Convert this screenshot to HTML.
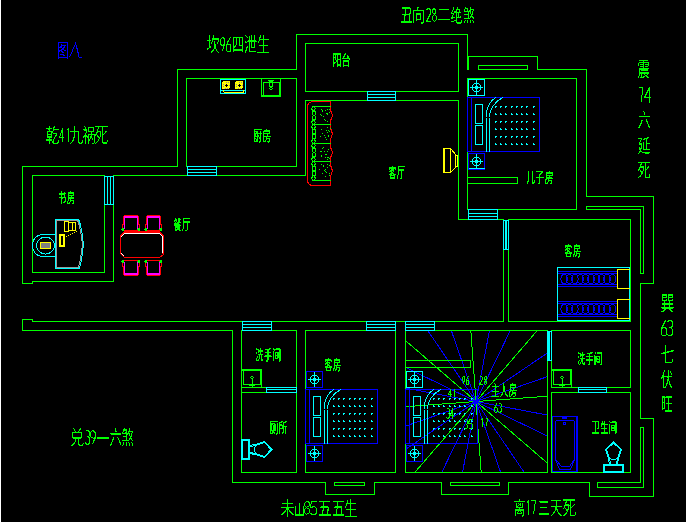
<!DOCTYPE html>
<html><head><meta charset="utf-8"><style>
html,body{margin:0;padding:0;background:#000;width:687px;height:522px;overflow:hidden;font-family:"Liberation Sans",sans-serif}
svg{display:block}
</style></head><body>
<svg width="687" height="522" viewBox="0 0 687 522">
<rect x="0" y="0" width="687" height="522" fill="#000"/>
<rect x="0" y="0" width="1" height="522" fill="#fff"/>
<rect x="686" y="0" width="1" height="522" fill="#fff"/>
<g transform="translate(0.5,0.5)" fill="none" stroke-width="1" stroke-linecap="square" shape-rendering="crispEdges">
<g><line x1="475.5" y1="401.0" x2="547.0" y2="395.7" stroke="#00ff00"/><line x1="475.5" y1="401.0" x2="547.0" y2="414.6" stroke="#0000ff"/><line x1="475.5" y1="401.0" x2="547.0" y2="435.6" stroke="#0000ff"/><line x1="475.5" y1="401.0" x2="547.0" y2="462.7" stroke="#00ff00"/><line x1="475.5" y1="401.0" x2="523.8" y2="472.0" stroke="#0000ff"/><line x1="475.5" y1="401.0" x2="500.2" y2="472.0" stroke="#0000ff"/><line x1="475.5" y1="401.0" x2="480.7" y2="472.0" stroke="#00ff00"/><line x1="475.5" y1="401.0" x2="462.0" y2="472.0" stroke="#0000ff"/><line x1="475.5" y1="401.0" x2="441.2" y2="472.0" stroke="#0000ff"/><line x1="475.5" y1="401.0" x2="414.2" y2="472.0" stroke="#00ff00"/><line x1="475.5" y1="401.0" x2="405.0" y2="448.9" stroke="#0000ff"/><line x1="475.5" y1="401.0" x2="405.0" y2="425.6" stroke="#0000ff"/><line x1="475.5" y1="401.0" x2="405.0" y2="406.2" stroke="#00ff00"/><line x1="475.5" y1="401.0" x2="405.0" y2="387.6" stroke="#0000ff"/><line x1="475.5" y1="401.0" x2="405.0" y2="366.9" stroke="#0000ff"/><line x1="475.5" y1="401.0" x2="405.0" y2="340.1" stroke="#00ff00"/><line x1="475.5" y1="401.0" x2="427.2" y2="330.0" stroke="#0000ff"/><line x1="475.5" y1="401.0" x2="450.8" y2="330.0" stroke="#0000ff"/><line x1="475.5" y1="401.0" x2="470.3" y2="330.0" stroke="#00ff00"/><line x1="475.5" y1="401.0" x2="489.0" y2="330.0" stroke="#0000ff"/><line x1="475.5" y1="401.0" x2="509.8" y2="330.0" stroke="#0000ff"/><line x1="475.5" y1="401.0" x2="536.8" y2="330.0" stroke="#00ff00"/><line x1="475.5" y1="401.0" x2="547.0" y2="352.4" stroke="#0000ff"/><line x1="475.5" y1="401.0" x2="547.0" y2="376.1" stroke="#0000ff"/></g>
<g><polyline points="22,283 22,166 177,166 177,69 296,69 296,34 467,34 467,69" stroke="#00ff00"/><line x1="468" y1="56" x2="468" y2="69" stroke="#00ff00"/><polyline points="467,56 537,56 537,69 586,69 586,196 653,196 653,283 640,283 640,418 653,418 653,496 589,496 589,482 508,482 508,494 441,494 441,482 374,482 374,494 325,494 325,482 232,482 232,330 22,330 22,319 32,319 32,321 503,321 503,219 458,219 458,100 305,100 305,175 113,175 113,281 32,281 32,283 22,283" stroke="#00ff00"/><rect x="32" y="175" width="72" height="97" stroke="#00ff00"/><rect x="186" y="78" width="110" height="88" stroke="#00ff00"/><rect x="305" y="43" width="153" height="48" stroke="#00ff00"/><rect x="467" y="78" width="109" height="131" stroke="#00ff00"/><rect x="508" y="219" width="122" height="102" stroke="#00ff00"/><polygon points="586,206 643,206 643,273 640,273 640,209 586,209" stroke="#00ff00"/><rect x="478" y="65" width="49" height="4" stroke="#00ff00"/><polyline points="467,177 517,177 517,183 467,183" stroke="#00ff00"/><line x1="232" y1="330" x2="232" y2="330" stroke="#00ff00"/><rect x="241" y="330" width="55" height="142" stroke="#00ff00"/><line x1="241" y1="387" x2="266" y2="387" stroke="#00ff00"/><line x1="241" y1="392" x2="266" y2="392" stroke="#00ff00"/><rect x="305" y="330" width="90" height="142" stroke="#00ff00"/><rect x="405" y="330" width="142" height="142" stroke="#00ff00"/><rect x="551" y="330" width="79" height="57" stroke="#00ff00"/><rect x="551" y="392" width="79" height="80" stroke="#00ff00"/><rect x="405" y="360" width="65" height="7" stroke="#00ff00"/><rect x="334" y="482" width="30" height="3" stroke="#00ff00"/><rect x="450" y="482" width="49" height="3" stroke="#00ff00"/><polygon points="597,482 640,482 640,427 643,427 643,487 597,487" stroke="#00ff00"/></g>
<g><rect x="187" y="166" width="29" height="9" stroke="#00ffff" fill="#000"/><line x1="187" y1="169" x2="216" y2="169" stroke="#00ffff"/><line x1="187" y1="172" x2="216" y2="172" stroke="#00ffff"/><rect x="104" y="176" width="9" height="28" stroke="#00ffff" fill="#000"/><line x1="107" y1="176" x2="107" y2="204" stroke="#00ffff"/><line x1="110" y1="176" x2="110" y2="204" stroke="#00ffff"/><rect x="367" y="91" width="28" height="9" stroke="#00ffff" fill="#000"/><line x1="367" y1="94" x2="395" y2="94" stroke="#00ffff"/><line x1="367" y1="97" x2="395" y2="97" stroke="#00ffff"/><rect x="468" y="209" width="29" height="10" stroke="#00ffff" fill="#000"/><line x1="468" y1="213" x2="497" y2="213" stroke="#00ffff"/><line x1="468" y1="216" x2="497" y2="216" stroke="#00ffff"/><rect x="503" y="220" width="5" height="29" stroke="#00ffff" fill="#000"/><line x1="505" y1="220" x2="505" y2="249" stroke="#00ffff"/><line x1="506" y1="220" x2="506" y2="249" stroke="#00ffff"/><rect x="242" y="321" width="29" height="9" stroke="#00ffff" fill="#000"/><line x1="242" y1="324" x2="271" y2="324" stroke="#00ffff"/><line x1="242" y1="327" x2="271" y2="327" stroke="#00ffff"/><rect x="366" y="321" width="29" height="9" stroke="#00ffff" fill="#000"/><line x1="366" y1="324" x2="395" y2="324" stroke="#00ffff"/><line x1="366" y1="327" x2="395" y2="327" stroke="#00ffff"/><rect x="405" y="321" width="29" height="9" stroke="#00ffff" fill="#000"/><line x1="405" y1="324" x2="434" y2="324" stroke="#00ffff"/><line x1="405" y1="327" x2="434" y2="327" stroke="#00ffff"/><rect x="547" y="331" width="4" height="29" stroke="#00ffff" fill="#000"/><line x1="548" y1="331" x2="548" y2="360" stroke="#00ffff"/><line x1="549" y1="331" x2="549" y2="360" stroke="#00ffff"/><rect x="266" y="387" width="30" height="5" stroke="#00ffff" fill="#000"/><line x1="266" y1="389" x2="296" y2="389" stroke="#00ffff"/><rect x="578" y="387" width="28" height="5" stroke="#00ffff" fill="#000"/><line x1="578" y1="389" x2="606" y2="389" stroke="#00ffff"/></g>
<g><rect x="474" y="399.5" width="3" height="3" fill="#0000ff" stroke="#0000ff"/><rect x="220" y="79" width="25" height="14" stroke="#00ffff"/><line x1="220" y1="90" x2="245" y2="90" stroke="#00ffff"/><line x1="224" y1="92" x2="243" y2="92" stroke="#ffff00"/><line x1="223" y1="90" x2="223" y2="91" stroke="#ffff00"/><line x1="243" y1="90" x2="243" y2="91" stroke="#ffff00"/><rect x="221.5" y="80.5" width="8" height="8" rx="2" fill="#ffff00" stroke="none"/><rect x="224.5" y="84.5" width="3" height="1" fill="#000" stroke="none"/><rect x="225.5" y="83.5" width="1" height="3" fill="#000" stroke="none"/><rect x="222.5" y="83.5" width="1" height="1" fill="#8a8aa0" stroke="none"/><rect x="222.5" y="85.5" width="1" height="1" fill="#8a8aa0" stroke="none"/><rect x="227.5" y="81.5" width="1" height="1" fill="#8a8aa0" stroke="none"/><rect x="228.5" y="84.5" width="1" height="1" fill="#8a8aa0" stroke="none"/><rect x="224.5" y="87.5" width="1" height="1" fill="#8a8aa0" stroke="none"/><rect x="226.5" y="87.5" width="1" height="1" fill="#8a8aa0" stroke="none"/><rect x="225.5" y="81.5" width="1" height="1" fill="#8a8aa0" stroke="none"/><rect x="234.5" y="80.5" width="8" height="8" rx="2" fill="#ffff00" stroke="none"/><rect x="237.5" y="84.5" width="3" height="1" fill="#000" stroke="none"/><rect x="238.5" y="83.5" width="1" height="3" fill="#000" stroke="none"/><rect x="235.5" y="83.5" width="1" height="1" fill="#8a8aa0" stroke="none"/><rect x="235.5" y="85.5" width="1" height="1" fill="#8a8aa0" stroke="none"/><rect x="240.5" y="81.5" width="1" height="1" fill="#8a8aa0" stroke="none"/><rect x="241.5" y="84.5" width="1" height="1" fill="#8a8aa0" stroke="none"/><rect x="237.5" y="87.5" width="1" height="1" fill="#8a8aa0" stroke="none"/><rect x="239.5" y="87.5" width="1" height="1" fill="#8a8aa0" stroke="none"/><rect x="238.5" y="81.5" width="1" height="1" fill="#8a8aa0" stroke="none"/><rect x="261" y="78" width="19" height="18" stroke="#00ff00"/><line x1="261" y1="95" x2="280" y2="95" stroke="#00ff00"/><polyline points="263,95 263,82 279,82 279,95" stroke="#00ff00"/><rect x="269" y="81" width="3" height="5" stroke="#00ff00"/><line x1="268" y1="80" x2="273" y2="80" stroke="#00ff00"/><circle cx="270.5" cy="88" r="1.3" stroke="#00ff00" fill="none" stroke-width="1"/><path d="M330,101 L313,101 Q307,101 307,107 L307,179 Q307,185 313,185 L330,185" stroke="#ff0000" fill="none" stroke-width="1" /><path d="M330,101 L330,110 Q333.5,115.0 330,120 L330,128 Q333.5,133.5 330,139 L330,147 Q333.5,152.0 330,157 L330,165 Q333.5,170.5 330,176 L330,185" stroke="#ff0000" fill="none" stroke-width="1" /><line x1="312" y1="106" x2="330" y2="106" stroke="#00ff00"/><ellipse cx="313.0" cy="108.2" rx="1.6" ry="2.2" stroke="#00ff00"/><ellipse cx="313.6" cy="112.8" rx="1.6" ry="2.2" stroke="#00ff00"/><ellipse cx="313.6" cy="117.2" rx="1.6" ry="2.2" stroke="#00ff00"/><ellipse cx="313.0" cy="121.8" rx="1.6" ry="2.2" stroke="#00ff00"/><line x1="312" y1="124" x2="330" y2="124" stroke="#00ff00"/><ellipse cx="313.0" cy="126.4" rx="1.6" ry="2.4" stroke="#00ff00"/><ellipse cx="313.6" cy="131.1" rx="1.6" ry="2.4" stroke="#00ff00"/><ellipse cx="313.6" cy="135.9" rx="1.6" ry="2.4" stroke="#00ff00"/><ellipse cx="313.0" cy="140.6" rx="1.6" ry="2.4" stroke="#00ff00"/><line x1="312" y1="143" x2="330" y2="143" stroke="#00ff00"/><ellipse cx="313.0" cy="145.2" rx="1.6" ry="2.2" stroke="#00ff00"/><ellipse cx="313.6" cy="149.8" rx="1.6" ry="2.2" stroke="#00ff00"/><ellipse cx="313.6" cy="154.2" rx="1.6" ry="2.2" stroke="#00ff00"/><ellipse cx="313.0" cy="158.8" rx="1.6" ry="2.2" stroke="#00ff00"/><line x1="312" y1="161" x2="330" y2="161" stroke="#00ff00"/><ellipse cx="313.0" cy="163.4" rx="1.6" ry="2.4" stroke="#00ff00"/><ellipse cx="313.6" cy="168.1" rx="1.6" ry="2.4" stroke="#00ff00"/><ellipse cx="313.6" cy="172.9" rx="1.6" ry="2.4" stroke="#00ff00"/><ellipse cx="313.0" cy="177.6" rx="1.6" ry="2.4" stroke="#00ff00"/><line x1="312" y1="180" x2="330" y2="180" stroke="#00ff00"/><rect x="325" y="110" width="0.01" height="0.01" stroke="#00ff00"/><rect x="327" y="109" width="0.01" height="0.01" stroke="#00ff00"/><rect x="326" y="113" width="0.01" height="0.01" stroke="#00ff00"/><rect x="321" y="115" width="0.01" height="0.01" stroke="#00ff00"/><rect x="320" y="114" width="0.01" height="0.01" stroke="#00ff00"/><rect x="321" y="109" width="0.01" height="0.01" stroke="#00ff00"/><rect x="325" y="120" width="0.01" height="0.01" stroke="#00ff00"/><rect x="322" y="111" width="0.01" height="0.01" stroke="#00ff00"/><rect x="327" y="121" width="0.01" height="0.01" stroke="#00ff00"/><rect x="327" y="114" width="0.01" height="0.01" stroke="#00ff00"/><rect x="329" y="109" width="0.01" height="0.01" stroke="#00ff00"/><rect x="329" y="112" width="0.01" height="0.01" stroke="#00ff00"/><rect x="322" y="110" width="0.01" height="0.01" stroke="#00ff00"/><rect x="324" y="119" width="0.01" height="0.01" stroke="#00ff00"/><rect x="323" y="116" width="0.01" height="0.01" stroke="#00ff00"/><rect x="327" y="113" width="0.01" height="0.01" stroke="#00ff00"/><rect x="327" y="127" width="0.01" height="0.01" stroke="#00ff00"/><rect x="321" y="129" width="0.01" height="0.01" stroke="#00ff00"/><rect x="327" y="132" width="0.01" height="0.01" stroke="#00ff00"/><rect x="324" y="135" width="0.01" height="0.01" stroke="#00ff00"/><rect x="326" y="130" width="0.01" height="0.01" stroke="#00ff00"/><rect x="328" y="136" width="0.01" height="0.01" stroke="#00ff00"/><rect x="324" y="135" width="0.01" height="0.01" stroke="#00ff00"/><rect x="326" y="139" width="0.01" height="0.01" stroke="#00ff00"/><rect x="328" y="130" width="0.01" height="0.01" stroke="#00ff00"/><rect x="330" y="128" width="0.01" height="0.01" stroke="#00ff00"/><rect x="325" y="137" width="0.01" height="0.01" stroke="#00ff00"/><rect x="322" y="133" width="0.01" height="0.01" stroke="#00ff00"/><rect x="320" y="136" width="0.01" height="0.01" stroke="#00ff00"/><rect x="328" y="135" width="0.01" height="0.01" stroke="#00ff00"/><rect x="329" y="131" width="0.01" height="0.01" stroke="#00ff00"/><rect x="328" y="135" width="0.01" height="0.01" stroke="#00ff00"/><rect x="327" y="151" width="0.01" height="0.01" stroke="#00ff00"/><rect x="329" y="158" width="0.01" height="0.01" stroke="#00ff00"/><rect x="326" y="154" width="0.01" height="0.01" stroke="#00ff00"/><rect x="321" y="155" width="0.01" height="0.01" stroke="#00ff00"/><rect x="327" y="159" width="0.01" height="0.01" stroke="#00ff00"/><rect x="328" y="149" width="0.01" height="0.01" stroke="#00ff00"/><rect x="325" y="154" width="0.01" height="0.01" stroke="#00ff00"/><rect x="320" y="151" width="0.01" height="0.01" stroke="#00ff00"/><rect x="323" y="147" width="0.01" height="0.01" stroke="#00ff00"/><rect x="321" y="156" width="0.01" height="0.01" stroke="#00ff00"/><rect x="322" y="148" width="0.01" height="0.01" stroke="#00ff00"/><rect x="325" y="157" width="0.01" height="0.01" stroke="#00ff00"/><rect x="321" y="151" width="0.01" height="0.01" stroke="#00ff00"/><rect x="327" y="157" width="0.01" height="0.01" stroke="#00ff00"/><rect x="328" y="157" width="0.01" height="0.01" stroke="#00ff00"/><rect x="324" y="151" width="0.01" height="0.01" stroke="#00ff00"/><rect x="325" y="176" width="0.01" height="0.01" stroke="#00ff00"/><rect x="329" y="165" width="0.01" height="0.01" stroke="#00ff00"/><rect x="323" y="166" width="0.01" height="0.01" stroke="#00ff00"/><rect x="324" y="170" width="0.01" height="0.01" stroke="#00ff00"/><rect x="327" y="167" width="0.01" height="0.01" stroke="#00ff00"/><rect x="319" y="169" width="0.01" height="0.01" stroke="#00ff00"/><rect x="325" y="171" width="0.01" height="0.01" stroke="#00ff00"/><rect x="329" y="173" width="0.01" height="0.01" stroke="#00ff00"/><rect x="326" y="172" width="0.01" height="0.01" stroke="#00ff00"/><rect x="327" y="164" width="0.01" height="0.01" stroke="#00ff00"/><rect x="329" y="175" width="0.01" height="0.01" stroke="#00ff00"/><rect x="329" y="175" width="0.01" height="0.01" stroke="#00ff00"/><rect x="325" y="169" width="0.01" height="0.01" stroke="#00ff00"/><rect x="322" y="173" width="0.01" height="0.01" stroke="#00ff00"/><rect x="321" y="164" width="0.01" height="0.01" stroke="#00ff00"/><rect x="323" y="165" width="0.01" height="0.01" stroke="#00ff00"/><rect x="443" y="148" width="7" height="24" stroke="#ffff00"/><line x1="444" y1="148" x2="444" y2="172" stroke="#ffff00"/><polyline points="450,148 456,155" stroke="#ffff00"/><polyline points="456,166 450,172" stroke="#ffff00"/><rect x="455" y="155" width="2" height="11" stroke="#ffff00"/><polygon points="124,231 159,231 163,235 163,254 159,257 124,257 120,253 120,235" stroke="#ff0000"/><polyline points="121,235 124,232 159,232 162,235 162,253" stroke="#ff0000"/><polyline points="124,233 159,233 162,236 162,252" stroke="#ffffff"/><polyline points="121,236 123,234" stroke="#ffffff"/><polyline points="121,253 123,255" stroke="#ffffff"/><polyline points="122,229 122,224 123,224 123,217 124,215 137,215 138,217 138,224 139,224 139,229" stroke="#ff0000"/><polyline points="122,230 139,230" stroke="#ff0000"/><rect x="124" y="216" width="13" height="1" fill="#ff00ff" stroke="#ff00ff"/><line x1="124" y1="218" x2="124" y2="228" stroke="#ff00ff"/><line x1="137" y1="218" x2="137" y2="228" stroke="#ff00ff"/><circle cx="122.5" cy="229" r="1" stroke="#00ff00" fill="#00ff00" stroke-width="1"/><circle cx="138.5" cy="229" r="1" stroke="#00ff00" fill="none" stroke-width="1"/><polyline points="145,229 145,224 146,224 146,217 147,215 159,215 160,217 160,224 161,224 161,229" stroke="#ff0000"/><polyline points="145,230 161,230" stroke="#ff0000"/><rect x="147" y="216" width="12" height="1" fill="#ff00ff" stroke="#ff00ff"/><line x1="147" y1="218" x2="147" y2="228" stroke="#ff00ff"/><line x1="159" y1="218" x2="159" y2="228" stroke="#ff00ff"/><circle cx="145.5" cy="229" r="1" stroke="#00ff00" fill="#00ff00" stroke-width="1"/><circle cx="160.5" cy="229" r="1" stroke="#00ff00" fill="none" stroke-width="1"/><polyline points="122,261 122,266 123,266 123,273 124,275 137,275 138,273 138,266 139,266 139,261" stroke="#ff0000"/><polyline points="122,260 139,260" stroke="#ff0000"/><rect x="124" y="273" width="13" height="1" fill="#ff00ff" stroke="#ff00ff"/><line x1="124" y1="272" x2="124" y2="262" stroke="#ff00ff"/><line x1="137" y1="272" x2="137" y2="262" stroke="#ff00ff"/><circle cx="122.5" cy="261" r="1" stroke="#00ff00" fill="#00ff00" stroke-width="1"/><circle cx="138.5" cy="261" r="1" stroke="#00ff00" fill="none" stroke-width="1"/><polyline points="145,261 145,266 146,266 146,273 147,275 159,275 160,273 160,266 161,266 161,261" stroke="#ff0000"/><polyline points="145,260 161,260" stroke="#ff0000"/><rect x="147" y="273" width="12" height="1" fill="#ff00ff" stroke="#ff00ff"/><line x1="147" y1="272" x2="147" y2="262" stroke="#ff00ff"/><line x1="159" y1="272" x2="159" y2="262" stroke="#ff00ff"/><circle cx="145.5" cy="261" r="1" stroke="#00ff00" fill="#00ff00" stroke-width="1"/><circle cx="160.5" cy="261" r="1" stroke="#00ff00" fill="none" stroke-width="1"/><path d="M55,219 L78,219 L79,221 L80,225 L81,229 L82,236 L83,244 L82,252 L81,259 L80,264 L79,268 L55,268 Z" stroke="#00ffff" fill="none" stroke-width="1" /><path d="M56,220 L77,220 L78,222 L79,226 L80,230 L81,237 L82,244 L81,251 L80,258 L79,263 L78,267 L56,267 Z" stroke="#9a9a9a" fill="none" stroke-width="1" /><path d="M55,234 L43,234 C36,234 32,239 32,245 C32,251 36,256 43,256 L55,256" stroke="#00ffff" fill="none" stroke-width="1" /><ellipse cx="45" cy="245" rx="9" ry="8.5" stroke="#00ffff"/><rect x="40" y="242" width="10" height="6" stroke="#ffff00" fill="#808080"/><rect x="64" y="221" width="4" height="10" stroke="#ffff00" stroke-width="1"/><rect x="68" y="222" width="7" height="8" stroke="#ffff00"/><line x1="72" y1="222" x2="72" y2="230" stroke="#ffff00"/><rect x="59" y="234" width="5" height="12" stroke="#ffff00" stroke-width="1"/><rect x="60" y="235" width="3" height="10" stroke="#ffff00" stroke-width="1"/><rect x="66" y="236" width="0.01" height="0.01" stroke="#ffff00"/><rect x="68" y="235" width="0.01" height="0.01" stroke="#ffff00"/><rect x="70" y="234" width="0.01" height="0.01" stroke="#ffff00"/><rect x="72" y="233" width="0.01" height="0.01" stroke="#ffff00"/><rect x="74" y="232" width="0.01" height="0.01" stroke="#ffff00"/><rect x="75" y="230" width="0.01" height="0.01" stroke="#ffff00"/><rect x="76" y="231" width="0.01" height="0.01" stroke="#ffff00"/><g transform="translate(467,97)"><rect x="0" y="0" width="72" height="54" stroke="#0000ff"/><line x1="4" y1="0" x2="4" y2="54" stroke="#0000ff"/><rect x="8" y="7" width="7" height="19" stroke="#00ffff"/><rect x="8" y="28" width="7" height="19" stroke="#00ffff"/><path d="M18.5,54 L18.5,20 Q19,6 28,0" stroke="#00ffff" fill="none" stroke-width="1" /><path d="M21.5,54 L21.5,20 Q23,7 35,0" stroke="#00ffff" fill="none" stroke-width="1" /><path d="M28,10 L28,9 L29,9" stroke="#00ffff"/><path d="M28,16 L28,17 L29,17" stroke="#00ffff"/><path d="M28,25 L28,24 L29,24" stroke="#00ffff"/><path d="M28,31 L28,32 L29,32" stroke="#00ffff"/><path d="M28,40 L28,39 L29,39" stroke="#00ffff"/><path d="M28,46 L28,47 L29,47" stroke="#00ffff"/><path d="M33,10 L33,9 L34,9" stroke="#00ffff"/><path d="M33,16 L33,17 L34,17" stroke="#00ffff"/><path d="M33,25 L33,24 L34,24" stroke="#00ffff"/><path d="M33,31 L33,32 L34,32" stroke="#00ffff"/><path d="M33,40 L33,39 L34,39" stroke="#00ffff"/><path d="M33,46 L33,47 L34,47" stroke="#00ffff"/><path d="M38,10 L38,9 L39,9" stroke="#00ffff"/><path d="M38,16 L38,17 L39,17" stroke="#00ffff"/><path d="M38,25 L38,24 L39,24" stroke="#00ffff"/><path d="M38,31 L38,32 L39,32" stroke="#00ffff"/><path d="M38,40 L38,39 L39,39" stroke="#00ffff"/><path d="M38,46 L38,47 L39,47" stroke="#00ffff"/><path d="M44,10 L44,9 L45,9" stroke="#00ffff"/><path d="M44,16 L44,17 L45,17" stroke="#00ffff"/><path d="M44,25 L44,24 L45,24" stroke="#00ffff"/><path d="M44,31 L44,32 L45,32" stroke="#00ffff"/><path d="M44,40 L44,39 L45,39" stroke="#00ffff"/><path d="M44,46 L44,47 L45,47" stroke="#00ffff"/><path d="M49,10 L49,9 L50,9" stroke="#00ffff"/><path d="M49,16 L49,17 L50,17" stroke="#00ffff"/><path d="M49,25 L49,24 L50,24" stroke="#00ffff"/><path d="M49,31 L49,32 L50,32" stroke="#00ffff"/><path d="M49,40 L49,39 L50,39" stroke="#00ffff"/><path d="M49,46 L49,47 L50,47" stroke="#00ffff"/><path d="M54,10 L54,9 L55,9" stroke="#00ffff"/><path d="M54,16 L54,17 L55,17" stroke="#00ffff"/><path d="M54,25 L54,24 L55,24" stroke="#00ffff"/><path d="M54,31 L54,32 L55,32" stroke="#00ffff"/><path d="M54,40 L54,39 L55,39" stroke="#00ffff"/><path d="M54,46 L54,47 L55,47" stroke="#00ffff"/><path d="M59,10 L59,9 L60,9" stroke="#00ffff"/><path d="M59,16 L59,17 L60,17" stroke="#00ffff"/><path d="M59,25 L59,24 L60,24" stroke="#00ffff"/><path d="M59,31 L59,32 L60,32" stroke="#00ffff"/><path d="M59,40 L59,39 L60,39" stroke="#00ffff"/><path d="M59,46 L59,47 L60,47" stroke="#00ffff"/><path d="M66,10 L66,9 L67,9" stroke="#00ffff"/><path d="M66,16 L66,17 L67,17" stroke="#00ffff"/><path d="M66,25 L66,24 L67,24" stroke="#00ffff"/><path d="M66,31 L66,32 L67,32" stroke="#00ffff"/><path d="M66,40 L66,39 L67,39" stroke="#00ffff"/><path d="M66,46 L66,47 L67,47" stroke="#00ffff"/></g><g transform="translate(305,389)"><rect x="0" y="0" width="72" height="54" stroke="#0000ff"/><line x1="4" y1="0" x2="4" y2="54" stroke="#0000ff"/><rect x="8" y="7" width="7" height="19" stroke="#00ffff"/><rect x="8" y="28" width="7" height="19" stroke="#00ffff"/><path d="M18.5,54 L18.5,20 Q19,6 28,0" stroke="#00ffff" fill="none" stroke-width="1" /><path d="M21.5,54 L21.5,20 Q23,7 35,0" stroke="#00ffff" fill="none" stroke-width="1" /><path d="M28,10 L28,9 L29,9" stroke="#00ffff"/><path d="M28,16 L28,17 L29,17" stroke="#00ffff"/><path d="M28,25 L28,24 L29,24" stroke="#00ffff"/><path d="M28,31 L28,32 L29,32" stroke="#00ffff"/><path d="M28,40 L28,39 L29,39" stroke="#00ffff"/><path d="M28,46 L28,47 L29,47" stroke="#00ffff"/><path d="M33,10 L33,9 L34,9" stroke="#00ffff"/><path d="M33,16 L33,17 L34,17" stroke="#00ffff"/><path d="M33,25 L33,24 L34,24" stroke="#00ffff"/><path d="M33,31 L33,32 L34,32" stroke="#00ffff"/><path d="M33,40 L33,39 L34,39" stroke="#00ffff"/><path d="M33,46 L33,47 L34,47" stroke="#00ffff"/><path d="M38,10 L38,9 L39,9" stroke="#00ffff"/><path d="M38,16 L38,17 L39,17" stroke="#00ffff"/><path d="M38,25 L38,24 L39,24" stroke="#00ffff"/><path d="M38,31 L38,32 L39,32" stroke="#00ffff"/><path d="M38,40 L38,39 L39,39" stroke="#00ffff"/><path d="M38,46 L38,47 L39,47" stroke="#00ffff"/><path d="M44,10 L44,9 L45,9" stroke="#00ffff"/><path d="M44,16 L44,17 L45,17" stroke="#00ffff"/><path d="M44,25 L44,24 L45,24" stroke="#00ffff"/><path d="M44,31 L44,32 L45,32" stroke="#00ffff"/><path d="M44,40 L44,39 L45,39" stroke="#00ffff"/><path d="M44,46 L44,47 L45,47" stroke="#00ffff"/><path d="M49,10 L49,9 L50,9" stroke="#00ffff"/><path d="M49,16 L49,17 L50,17" stroke="#00ffff"/><path d="M49,25 L49,24 L50,24" stroke="#00ffff"/><path d="M49,31 L49,32 L50,32" stroke="#00ffff"/><path d="M49,40 L49,39 L50,39" stroke="#00ffff"/><path d="M49,46 L49,47 L50,47" stroke="#00ffff"/><path d="M54,10 L54,9 L55,9" stroke="#00ffff"/><path d="M54,16 L54,17 L55,17" stroke="#00ffff"/><path d="M54,25 L54,24 L55,24" stroke="#00ffff"/><path d="M54,31 L54,32 L55,32" stroke="#00ffff"/><path d="M54,40 L54,39 L55,39" stroke="#00ffff"/><path d="M54,46 L54,47 L55,47" stroke="#00ffff"/><path d="M59,10 L59,9 L60,9" stroke="#00ffff"/><path d="M59,16 L59,17 L60,17" stroke="#00ffff"/><path d="M59,25 L59,24 L60,24" stroke="#00ffff"/><path d="M59,31 L59,32 L60,32" stroke="#00ffff"/><path d="M59,40 L59,39 L60,39" stroke="#00ffff"/><path d="M59,46 L59,47 L60,47" stroke="#00ffff"/><path d="M66,10 L66,9 L67,9" stroke="#00ffff"/><path d="M66,16 L66,17 L67,17" stroke="#00ffff"/><path d="M66,25 L66,24 L67,24" stroke="#00ffff"/><path d="M66,31 L66,32 L67,32" stroke="#00ffff"/><path d="M66,40 L66,39 L67,39" stroke="#00ffff"/><path d="M66,46 L66,47 L67,47" stroke="#00ffff"/></g><g transform="translate(405,389)"><rect x="0" y="0" width="72" height="54" stroke="#0000ff"/><line x1="4" y1="0" x2="4" y2="54" stroke="#0000ff"/><rect x="8" y="7" width="7" height="19" stroke="#00ffff"/><rect x="8" y="28" width="7" height="19" stroke="#00ffff"/><path d="M18.5,54 L18.5,20 Q19,6 28,0" stroke="#00ffff" fill="none" stroke-width="1" /><path d="M21.5,54 L21.5,20 Q23,7 35,0" stroke="#00ffff" fill="none" stroke-width="1" /><path d="M28,10 L28,9 L29,9" stroke="#00ffff"/><path d="M28,16 L28,17 L29,17" stroke="#00ffff"/><path d="M28,25 L28,24 L29,24" stroke="#00ffff"/><path d="M28,31 L28,32 L29,32" stroke="#00ffff"/><path d="M28,40 L28,39 L29,39" stroke="#00ffff"/><path d="M28,46 L28,47 L29,47" stroke="#00ffff"/><path d="M33,10 L33,9 L34,9" stroke="#00ffff"/><path d="M33,16 L33,17 L34,17" stroke="#00ffff"/><path d="M33,25 L33,24 L34,24" stroke="#00ffff"/><path d="M33,31 L33,32 L34,32" stroke="#00ffff"/><path d="M33,40 L33,39 L34,39" stroke="#00ffff"/><path d="M33,46 L33,47 L34,47" stroke="#00ffff"/><path d="M38,10 L38,9 L39,9" stroke="#00ffff"/><path d="M38,16 L38,17 L39,17" stroke="#00ffff"/><path d="M38,25 L38,24 L39,24" stroke="#00ffff"/><path d="M38,31 L38,32 L39,32" stroke="#00ffff"/><path d="M38,40 L38,39 L39,39" stroke="#00ffff"/><path d="M38,46 L38,47 L39,47" stroke="#00ffff"/><path d="M44,10 L44,9 L45,9" stroke="#00ffff"/><path d="M44,16 L44,17 L45,17" stroke="#00ffff"/><path d="M44,25 L44,24 L45,24" stroke="#00ffff"/><path d="M44,31 L44,32 L45,32" stroke="#00ffff"/><path d="M44,40 L44,39 L45,39" stroke="#00ffff"/><path d="M44,46 L44,47 L45,47" stroke="#00ffff"/><path d="M49,10 L49,9 L50,9" stroke="#00ffff"/><path d="M49,16 L49,17 L50,17" stroke="#00ffff"/><path d="M49,25 L49,24 L50,24" stroke="#00ffff"/><path d="M49,31 L49,32 L50,32" stroke="#00ffff"/><path d="M49,40 L49,39 L50,39" stroke="#00ffff"/><path d="M49,46 L49,47 L50,47" stroke="#00ffff"/><path d="M54,10 L54,9 L55,9" stroke="#00ffff"/><path d="M54,16 L54,17 L55,17" stroke="#00ffff"/><path d="M54,25 L54,24 L55,24" stroke="#00ffff"/><path d="M54,31 L54,32 L55,32" stroke="#00ffff"/><path d="M54,40 L54,39 L55,39" stroke="#00ffff"/><path d="M54,46 L54,47 L55,47" stroke="#00ffff"/><path d="M59,10 L59,9 L60,9" stroke="#00ffff"/><path d="M59,16 L59,17 L60,17" stroke="#00ffff"/><path d="M59,25 L59,24 L60,24" stroke="#00ffff"/><path d="M59,31 L59,32 L60,32" stroke="#00ffff"/><path d="M59,40 L59,39 L60,39" stroke="#00ffff"/><path d="M59,46 L59,47 L60,47" stroke="#00ffff"/><path d="M66,10 L66,9 L67,9" stroke="#00ffff"/><path d="M66,16 L66,17 L67,17" stroke="#00ffff"/><path d="M66,25 L66,24 L67,24" stroke="#00ffff"/><path d="M66,31 L66,32 L67,32" stroke="#00ffff"/><path d="M66,40 L66,39 L67,39" stroke="#00ffff"/><path d="M66,46 L66,47 L67,47" stroke="#00ffff"/></g><rect x="468" y="79" width="16" height="16" stroke="#00ffff"/><polygon points="474,83 478,83 480,85 480,89 478,91 474,91 472,89 472,85" stroke="#00ffff"/><line x1="470" y1="87" x2="482" y2="87" stroke="#00ffff"/><line x1="476" y1="80" x2="476" y2="94" stroke="#00ffff"/><rect x="475" y="86" width="2" height="2" fill="#00ffff" stroke="#00ffff"/><rect x="468" y="153" width="16" height="16" stroke="#0000ff"/><polygon points="474,157 478,157 480,159 480,163 478,165 474,165 472,163 472,159" stroke="#00ffff"/><line x1="470" y1="161" x2="482" y2="161" stroke="#00ffff"/><line x1="476" y1="154" x2="476" y2="168" stroke="#00ffff"/><rect x="475" y="160" width="2" height="2" fill="#00ffff" stroke="#00ffff"/><line x1="469" y1="168" x2="484" y2="168" stroke="#00ffff"/><rect x="306" y="371" width="16" height="16" stroke="#0000ff"/><polygon points="312,375 316,375 318,377 318,381 316,383 312,383 310,381 310,377" stroke="#00ffff"/><line x1="308" y1="379" x2="320" y2="379" stroke="#00ffff"/><line x1="314" y1="372" x2="314" y2="386" stroke="#00ffff"/><rect x="313" y="378" width="2" height="2" fill="#00ffff" stroke="#00ffff"/><rect x="306" y="445" width="16" height="16" stroke="#0000ff"/><polygon points="312,449 316,449 318,451 318,455 316,457 312,457 310,455 310,451" stroke="#00ffff"/><line x1="308" y1="453" x2="320" y2="453" stroke="#00ffff"/><line x1="314" y1="446" x2="314" y2="460" stroke="#00ffff"/><rect x="313" y="452" width="2" height="2" fill="#00ffff" stroke="#00ffff"/><rect x="406" y="371" width="16" height="16" stroke="#00ffff"/><polygon points="412,375 416,375 418,377 418,381 416,383 412,383 410,381 410,377" stroke="#00ffff"/><line x1="408" y1="379" x2="420" y2="379" stroke="#00ffff"/><line x1="414" y1="372" x2="414" y2="386" stroke="#00ffff"/><rect x="413" y="378" width="2" height="2" fill="#00ffff" stroke="#00ffff"/><rect x="406" y="445" width="16" height="16" stroke="#0000ff"/><polygon points="412,449 416,449 418,451 418,455 416,457 412,457 410,455 410,451" stroke="#00ffff"/><line x1="408" y1="453" x2="420" y2="453" stroke="#00ffff"/><line x1="414" y1="446" x2="414" y2="460" stroke="#00ffff"/><rect x="413" y="452" width="2" height="2" fill="#00ffff" stroke="#00ffff"/><g transform="translate(613,472)"><rect x="-10" y="-8" width="20" height="8" stroke="#00ffff"/><rect x="-9" y="-7" width="18" height="6" stroke="#00ffff"/><polyline points="-4,-8 -5,-14 -8,-23 0,-31 8,-23 5,-14 4,-8" stroke="#00ffff"/><polyline points="-3,-9 -4,-14 -7,-23 0,-29.5 7,-23 4,-14 3,-9" stroke="#00ffff"/><path d="M-4,-14 Q0,-12 4,-14" stroke="#00ffff" fill="none" stroke-width="1" /></g><g transform="translate(241,449) rotate(90)"><rect x="-10" y="-8" width="20" height="8" stroke="#00ffff"/><rect x="-9" y="-7" width="18" height="6" stroke="#00ffff"/><polyline points="-4,-8 -5,-14 -8,-23 0,-31 8,-23 5,-14 4,-8" stroke="#00ffff"/><polyline points="-3,-9 -4,-14 -7,-23 0,-29.5 7,-23 4,-14 3,-9" stroke="#00ffff"/><path d="M-4,-14 Q0,-12 4,-14" stroke="#00ffff" fill="none" stroke-width="1" /></g><rect x="552" y="416" width="25" height="55" stroke="#0000ff"/><line x1="576" y1="416" x2="576" y2="471" stroke="#0000ff"/><path d="M555,459 L555,422 Q555,420 557,420 L572,420 Q574,420 574,422 L574,459 L570,469 L559,469 Z" stroke="#0000ff" fill="none" stroke-width="1" /><polyline points="556,460 561,466 569,466 573,460" stroke="#0000ff"/><rect x="563" y="422" width="2" height="2" stroke="#0000ff"/><rect x="562" y="417" width="4" height="1" fill="#0000ff" stroke="#0000ff"/><rect x="241" y="369" width="20" height="18" stroke="#00ff00"/><line x1="241" y1="370" x2="261" y2="370" stroke="#00ff00"/><polyline points="243,370 243,384 260,384 260,370" stroke="#00ff00"/><circle cx="251.5" cy="377" r="1.3" stroke="#00ff00" fill="none" stroke-width="1"/><line x1="252" y1="378" x2="252" y2="386" stroke="#00ff00"/><line x1="249" y1="385" x2="254" y2="385" stroke="#00ff00"/><rect x="551" y="369" width="20" height="18" stroke="#00ff00"/><line x1="551" y1="370" x2="571" y2="370" stroke="#00ff00"/><polyline points="553,370 553,384 570,384 570,370" stroke="#00ff00"/><circle cx="561.5" cy="377" r="1.3" stroke="#00ff00" fill="none" stroke-width="1"/><line x1="562" y1="378" x2="562" y2="386" stroke="#00ff00"/><line x1="559" y1="385" x2="564" y2="385" stroke="#00ff00"/><rect x="557" y="267" width="72" height="53" stroke="#00ffff"/><line x1="558" y1="271" x2="617" y2="271" stroke="#0000ff"/><line x1="558" y1="273" x2="617" y2="273" stroke="#0000ff"/><line x1="558" y1="284" x2="617" y2="284" stroke="#0000ff"/><line x1="558" y1="286" x2="617" y2="286" stroke="#0000ff"/><ellipse cx="563.70" cy="278.5" rx="3.3" ry="4.6" stroke="#0000ff"/><ellipse cx="569.05" cy="278.5" rx="3.3" ry="4.6" stroke="#0000ff"/><ellipse cx="574.40" cy="278.5" rx="3.3" ry="4.6" stroke="#0000ff"/><ellipse cx="579.75" cy="278.5" rx="3.3" ry="4.6" stroke="#0000ff"/><ellipse cx="585.10" cy="278.5" rx="3.3" ry="4.6" stroke="#0000ff"/><ellipse cx="590.45" cy="278.5" rx="3.3" ry="4.6" stroke="#0000ff"/><ellipse cx="595.80" cy="278.5" rx="3.3" ry="4.6" stroke="#0000ff"/><ellipse cx="601.15" cy="278.5" rx="3.3" ry="4.6" stroke="#0000ff"/><ellipse cx="606.50" cy="278.5" rx="3.3" ry="4.6" stroke="#0000ff"/><ellipse cx="611.85" cy="278.5" rx="3.3" ry="4.6" stroke="#0000ff"/><polyline points="629,269 617,269 617,288 629,288" stroke="#ffff00"/><line x1="558" y1="301" x2="617" y2="301" stroke="#0000ff"/><line x1="558" y1="303" x2="617" y2="303" stroke="#0000ff"/><line x1="558" y1="314" x2="617" y2="314" stroke="#0000ff"/><line x1="558" y1="316" x2="617" y2="316" stroke="#0000ff"/><ellipse cx="563.70" cy="308.5" rx="3.3" ry="4.6" stroke="#0000ff"/><ellipse cx="569.05" cy="308.5" rx="3.3" ry="4.6" stroke="#0000ff"/><ellipse cx="574.40" cy="308.5" rx="3.3" ry="4.6" stroke="#0000ff"/><ellipse cx="579.75" cy="308.5" rx="3.3" ry="4.6" stroke="#0000ff"/><ellipse cx="585.10" cy="308.5" rx="3.3" ry="4.6" stroke="#0000ff"/><ellipse cx="590.45" cy="308.5" rx="3.3" ry="4.6" stroke="#0000ff"/><ellipse cx="595.80" cy="308.5" rx="3.3" ry="4.6" stroke="#0000ff"/><ellipse cx="601.15" cy="308.5" rx="3.3" ry="4.6" stroke="#0000ff"/><ellipse cx="606.50" cy="308.5" rx="3.3" ry="4.6" stroke="#0000ff"/><ellipse cx="611.85" cy="308.5" rx="3.3" ry="4.6" stroke="#0000ff"/><polyline points="629,299 617,299 617,318 629,318" stroke="#ffff00"/></g>
</g>
<g><path d="M209 35h1v1h-1zM213 35h1v1h-1zM209 36h1v1h-1zM213 36h1v1h-1zM209 37h1v1h-1zM213 37h1v1h-1zM209 38h1v1h-1zM212 38h7v1h-7zM209 39h1v1h-1zM212 39h7v1h-7zM207 40h4v1h-4zM212 40h1v1h-1zM218 40h1v1h-1zM209 41h1v1h-1zM212 41h1v1h-1zM214 41h1v1h-1zM218 41h1v1h-1zM209 42h1v1h-1zM211 42h1v1h-1zM214 42h1v1h-1zM217 42h1v1h-1zM209 43h1v1h-1zM211 43h1v1h-1zM214 43h1v1h-1zM217 43h1v1h-1zM209 44h1v1h-1zM214 44h2v1h-2zM209 45h1v1h-1zM214 45h2v1h-2zM209 46h2v1h-2zM214 46h2v1h-2zM209 47h2v1h-2zM214 47h2v1h-2zM207 48h2v1h-2zM214 48h2v1h-2zM207 49h1v1h-1zM213 49h1v1h-1zM216 49h1v1h-1zM212 50h2v1h-2zM216 50h1v1h-1zM211 51h2v1h-2zM217 51h1v1h-1zM211 52h1v1h-1zM218 52h1v1h-1z" fill="#00ff00" shape-rendering="crispEdges"/><g stroke="#00ff00" fill="none" stroke-width="1" shape-rendering="crispEdges" transform="translate(0.5,0.5)"><polyline points="224,44 222,45 220,44 220,39 222,37 224,38 224,40 224,44 223,48 221,51"/></g><g stroke="#00ff00" fill="none" stroke-width="1" shape-rendering="crispEdges" transform="translate(0.5,0.5)"><polyline points="230,37 227,42 226,45 226,50 227,51 230,51 230,50 230,45 230,44 227,44 226,45"/></g><path d="M233 37h10v1h-10zM233 38h1v1h-1zM236 38h1v1h-1zM239 38h1v1h-1zM242 38h1v1h-1zM233 39h1v1h-1zM236 39h1v1h-1zM239 39h1v1h-1zM242 39h1v1h-1zM233 40h1v1h-1zM236 40h1v1h-1zM239 40h1v1h-1zM242 40h1v1h-1zM233 41h1v1h-1zM236 41h1v1h-1zM239 41h1v1h-1zM242 41h1v1h-1zM233 42h1v1h-1zM236 42h1v1h-1zM239 42h1v1h-1zM242 42h1v1h-1zM233 43h1v1h-1zM236 43h1v1h-1zM239 43h1v1h-1zM242 43h1v1h-1zM233 44h1v1h-1zM236 44h1v1h-1zM239 44h1v1h-1zM242 44h1v1h-1zM233 45h1v1h-1zM235 45h1v1h-1zM239 45h4v1h-4zM233 46h3v1h-3zM242 46h1v1h-1zM233 47h2v1h-2zM242 47h1v1h-1zM233 48h1v1h-1zM242 48h1v1h-1zM233 49h10v1h-10zM233 50h10v1h-10zM233 51h1v1h-1zM242 51h1v1h-1z" fill="#00ff00" shape-rendering="crispEdges"/><path d="M245 35h1v1h-1zM251 35h1v1h-1zM254 35h1v1h-1zM246 36h1v1h-1zM249 36h1v1h-1zM251 36h1v1h-1zM254 36h1v1h-1zM247 37h1v1h-1zM249 37h1v1h-1zM251 37h1v1h-1zM254 37h1v1h-1zM249 38h1v1h-1zM251 38h1v1h-1zM254 38h1v1h-1zM249 39h1v1h-1zM251 39h1v1h-1zM254 39h1v1h-1zM248 40h8v1h-8zM245 41h1v1h-1zM247 41h10v1h-10zM245 42h2v1h-2zM249 42h1v1h-1zM251 42h1v1h-1zM254 42h1v1h-1zM249 43h1v1h-1zM251 43h1v1h-1zM254 43h1v1h-1zM249 44h1v1h-1zM251 44h1v1h-1zM254 44h1v1h-1zM249 45h1v1h-1zM251 45h1v1h-1zM254 45h1v1h-1zM247 46h1v1h-1zM249 46h1v1h-1zM251 46h1v1h-1zM254 46h1v1h-1zM246 47h2v1h-2zM249 47h1v1h-1zM251 47h4v1h-4zM246 48h1v1h-1zM249 48h1v1h-1zM246 49h1v1h-1zM249 49h1v1h-1zM245 50h2v1h-2zM249 50h1v1h-1zM245 51h1v1h-1zM249 51h7v1h-7zM245 52h1v1h-1z" fill="#00ff00" shape-rendering="crispEdges"/><path d="M260 35h1v1h-1zM263 35h1v1h-1zM260 36h1v1h-1zM263 36h1v1h-1zM259 37h2v1h-2zM263 37h1v1h-1zM259 38h1v1h-1zM263 38h1v1h-1zM259 39h10v1h-10zM259 40h1v1h-1zM263 40h1v1h-1zM258 41h1v1h-1zM263 41h1v1h-1zM258 42h1v1h-1zM263 42h1v1h-1zM263 43h1v1h-1zM263 44h1v1h-1zM259 45h9v1h-9zM263 46h1v1h-1zM263 47h1v1h-1zM263 48h1v1h-1zM263 49h1v1h-1zM263 50h1v1h-1zM263 51h1v1h-1zM257 52h12v1h-12z" fill="#00ff00" shape-rendering="crispEdges"/><path d="M402 7h8v1h-8zM402 8h9v1h-9zM405 9h1v1h-1zM410 9h1v1h-1zM405 10h1v1h-1zM410 10h1v1h-1zM405 11h1v1h-1zM410 11h1v1h-1zM405 12h1v1h-1zM410 12h1v1h-1zM405 13h1v1h-1zM409 13h2v1h-2zM402 14h8v1h-8zM404 15h2v1h-2zM409 15h1v1h-1zM404 16h1v1h-1zM409 16h1v1h-1zM404 17h1v1h-1zM409 17h1v1h-1zM404 18h1v1h-1zM409 18h1v1h-1zM404 19h1v1h-1zM409 19h1v1h-1zM404 20h1v1h-1zM409 20h1v1h-1zM401 21h11v1h-11zM401 22h11v1h-11z" fill="#00ff00" shape-rendering="crispEdges"/><path d="M417 7h2v1h-2zM417 8h1v1h-1zM417 9h1v1h-1zM413 10h11v1h-11zM413 11h1v1h-1zM423 11h1v1h-1zM413 12h1v1h-1zM423 12h1v1h-1zM413 13h1v1h-1zM416 13h5v1h-5zM423 13h1v1h-1zM413 14h1v1h-1zM416 14h5v1h-5zM423 14h1v1h-1zM413 15h1v1h-1zM416 15h1v1h-1zM420 15h1v1h-1zM423 15h1v1h-1zM413 16h1v1h-1zM416 16h1v1h-1zM420 16h1v1h-1zM423 16h1v1h-1zM413 17h1v1h-1zM416 17h1v1h-1zM420 17h1v1h-1zM423 17h1v1h-1zM413 18h1v1h-1zM416 18h1v1h-1zM420 18h1v1h-1zM423 18h1v1h-1zM413 19h1v1h-1zM416 19h5v1h-5zM423 19h1v1h-1zM413 20h1v1h-1zM416 20h1v1h-1zM423 20h1v1h-1zM413 21h1v1h-1zM423 21h1v1h-1zM413 22h1v1h-1zM421 22h3v1h-3zM421 23h2v1h-2z" fill="#00ff00" shape-rendering="crispEdges"/><g stroke="#00ff00" fill="none" stroke-width="1" shape-rendering="crispEdges" transform="translate(0.5,0.5)"><polyline points="426,10 427,8 429,8 430,10 430,13 426,21 430,21"/></g><g stroke="#00ff00" fill="none" stroke-width="1" shape-rendering="crispEdges" transform="translate(0.5,0.5)"><polyline points="433,8 434,8 435,10 435,12 434,14 432,12 432,10 433,8"/><polyline points="434,14 436,16 436,19 434,21 432,19 432,16 434,14"/></g><path d="M439 9h10v1h-10zM438 19h12v1h-12z" fill="#00ff00" shape-rendering="crispEdges"/><path d="M453 7h1v1h-1zM457 7h1v1h-1zM453 8h1v1h-1zM457 8h1v1h-1zM453 9h1v1h-1zM456 9h4v1h-4zM452 10h1v1h-1zM456 10h1v1h-1zM459 10h1v1h-1zM452 11h1v1h-1zM454 11h3v1h-3zM459 11h1v1h-1zM451 12h1v1h-1zM454 12h7v1h-7zM451 13h3v1h-3zM456 13h1v1h-1zM458 13h1v1h-1zM453 14h1v1h-1zM456 14h1v1h-1zM458 14h1v1h-1zM452 15h1v1h-1zM456 15h1v1h-1zM458 15h1v1h-1zM452 16h1v1h-1zM456 16h1v1h-1zM458 16h1v1h-1zM460 16h1v1h-1zM451 17h4v1h-4zM456 17h5v1h-5zM451 18h2v1h-2zM456 18h1v1h-1zM456 19h1v1h-1zM454 20h3v1h-3zM461 20h1v1h-1zM451 21h3v1h-3zM456 21h1v1h-1zM461 21h1v1h-1zM456 22h6v1h-6zM457 23h4v1h-4z" fill="#00ff00" shape-rendering="crispEdges"/><path d="M465 7h1v1h-1zM470 7h1v1h-1zM465 8h3v1h-3zM470 8h1v1h-1zM464 9h1v1h-1zM467 9h1v1h-1zM470 9h4v1h-4zM464 10h1v1h-1zM467 10h1v1h-1zM469 10h2v1h-2zM473 10h1v1h-1zM464 11h7v1h-7zM472 11h1v1h-1zM468 12h1v1h-1zM470 12h1v1h-1zM472 12h1v1h-1zM468 13h1v1h-1zM470 13h1v1h-1zM472 13h1v1h-1zM464 14h5v1h-5zM471 14h2v1h-2zM468 15h1v1h-1zM471 15h1v1h-1zM468 16h1v1h-1zM470 16h3v1h-3zM468 17h1v1h-1zM470 17h1v1h-1zM472 17h2v1h-2zM464 18h6v1h-6zM473 18h1v1h-1zM465 20h1v1h-1zM467 20h1v1h-1zM470 20h1v1h-1zM472 20h1v1h-1zM464 21h1v1h-1zM467 21h1v1h-1zM470 21h1v1h-1zM473 21h1v1h-1zM464 22h1v1h-1zM467 22h1v1h-1zM470 22h1v1h-1zM473 22h1v1h-1z" fill="#00ff00" shape-rendering="crispEdges"/><path d="M49 126h1v1h-1zM54 126h1v1h-1zM49 127h1v1h-1zM53 127h2v1h-2zM46 128h6v1h-6zM53 128h1v1h-1zM48 129h2v1h-2zM53 129h6v1h-6zM49 130h1v1h-1zM53 130h1v1h-1zM47 131h6v1h-6zM47 132h1v1h-1zM51 132h2v1h-2zM47 133h1v1h-1zM51 133h1v1h-1zM53 133h4v1h-4zM47 134h5v1h-5zM56 134h1v1h-1zM47 135h1v1h-1zM51 135h1v1h-1zM55 135h2v1h-2zM47 136h5v1h-5zM55 136h1v1h-1zM47 137h5v1h-5zM54 137h1v1h-1zM49 138h1v1h-1zM54 138h1v1h-1zM46 139h6v1h-6zM53 139h1v1h-1zM46 140h6v1h-6zM53 140h1v1h-1zM58 140h1v1h-1zM49 141h1v1h-1zM52 141h2v1h-2zM58 141h1v1h-1zM49 142h1v1h-1zM52 142h2v1h-2zM57 142h2v1h-2zM49 143h1v1h-1zM53 143h5v1h-5z" fill="#00ff00" shape-rendering="crispEdges"/><g stroke="#00ff00" fill="none" stroke-width="1" shape-rendering="crispEdges" transform="translate(0.5,0.5)"><polyline points="62,141 62,128 59,137 63,137"/></g><g stroke="#00ff00" fill="none" stroke-width="1" shape-rendering="crispEdges" transform="translate(0.5,0.5)"><polyline points="66,130 68,128 68,141"/></g><path d="M74 126h1v1h-1zM74 127h1v1h-1zM74 128h1v1h-1zM74 129h1v1h-1zM74 130h1v1h-1zM70 131h9v1h-9zM74 132h1v1h-1zM78 132h1v1h-1zM74 133h1v1h-1zM78 133h1v1h-1zM74 134h1v1h-1zM78 134h1v1h-1zM74 135h1v1h-1zM78 135h1v1h-1zM74 136h1v1h-1zM78 136h1v1h-1zM73 137h2v1h-2zM78 137h1v1h-1zM73 138h1v1h-1zM78 138h1v1h-1zM73 139h1v1h-1zM78 139h1v1h-1zM72 140h2v1h-2zM78 140h1v1h-1zM82 140h1v1h-1zM72 141h1v1h-1zM78 141h1v1h-1zM82 141h1v1h-1zM71 142h1v1h-1zM78 142h2v1h-2zM81 142h2v1h-2zM70 143h1v1h-1zM79 143h3v1h-3z" fill="#00ff00" shape-rendering="crispEdges"/><path d="M84 126h1v1h-1zM85 127h1v1h-1zM88 127h6v1h-6zM85 128h1v1h-1zM88 128h1v1h-1zM93 128h1v1h-1zM83 129h4v1h-4zM88 129h1v1h-1zM93 129h1v1h-1zM84 130h3v1h-3zM88 130h1v1h-1zM93 130h1v1h-1zM86 131h1v1h-1zM88 131h6v1h-6zM86 132h1v1h-1zM91 132h1v1h-1zM85 133h1v1h-1zM91 133h1v1h-1zM85 134h1v1h-1zM88 134h7v1h-7zM84 135h3v1h-3zM88 135h1v1h-1zM91 135h1v1h-1zM94 135h1v1h-1zM83 136h6v1h-6zM90 136h2v1h-2zM94 136h1v1h-1zM83 137h1v1h-1zM85 137h1v1h-1zM87 137h2v1h-2zM90 137h2v1h-2zM94 137h1v1h-1zM85 138h1v1h-1zM88 138h1v1h-1zM90 138h1v1h-1zM92 138h1v1h-1zM94 138h1v1h-1zM85 139h1v1h-1zM88 139h2v1h-2zM92 139h1v1h-1zM94 139h1v1h-1zM85 140h1v1h-1zM88 140h2v1h-2zM94 140h1v1h-1zM85 141h1v1h-1zM88 141h1v1h-1zM94 141h1v1h-1zM85 142h1v1h-1zM88 142h1v1h-1zM94 142h1v1h-1zM85 143h1v1h-1zM88 143h1v1h-1zM92 143h2v1h-2z" fill="#00ff00" shape-rendering="crispEdges"/><path d="M95 126h13v1h-13zM98 127h1v1h-1zM102 127h1v1h-1zM98 128h1v1h-1zM102 128h1v1h-1zM97 129h1v1h-1zM102 129h1v1h-1zM97 130h1v1h-1zM102 130h1v1h-1zM97 131h4v1h-4zM102 131h1v1h-1zM105 131h2v1h-2zM96 132h2v1h-2zM100 132h1v1h-1zM102 132h1v1h-1zM105 132h1v1h-1zM96 133h1v1h-1zM100 133h1v1h-1zM102 133h1v1h-1zM104 133h1v1h-1zM95 134h2v1h-2zM100 134h1v1h-1zM102 134h2v1h-2zM95 135h1v1h-1zM97 135h1v1h-1zM100 135h1v1h-1zM102 135h1v1h-1zM97 136h2v1h-2zM100 136h1v1h-1zM102 136h1v1h-1zM98 137h2v1h-2zM102 137h1v1h-1zM99 138h1v1h-1zM102 138h1v1h-1zM98 139h1v1h-1zM102 139h1v1h-1zM98 140h1v1h-1zM102 140h1v1h-1zM107 140h1v1h-1zM97 141h1v1h-1zM102 141h1v1h-1zM107 141h1v1h-1zM96 142h1v1h-1zM102 142h5v1h-5zM95 143h1v1h-1zM103 143h4v1h-4z" fill="#00ff00" shape-rendering="crispEdges"/><path d="M73 428h1v1h-1zM80 428h1v1h-1zM74 429h1v1h-1zM79 429h2v1h-2zM74 430h1v1h-1zM79 430h1v1h-1zM75 431h1v1h-1zM78 431h1v1h-1zM72 432h10v1h-10zM72 433h1v1h-1zM81 433h1v1h-1zM72 434h1v1h-1zM81 434h1v1h-1zM72 435h1v1h-1zM81 435h1v1h-1zM72 436h1v1h-1zM81 436h1v1h-1zM72 437h10v1h-10zM73 438h8v1h-8zM75 439h1v1h-1zM78 439h1v1h-1zM75 440h1v1h-1zM78 440h1v1h-1zM75 441h1v1h-1zM78 441h1v1h-1zM74 442h1v1h-1zM78 442h1v1h-1zM73 443h2v1h-2zM78 443h1v1h-1zM83 443h1v1h-1zM72 444h2v1h-2zM78 444h2v1h-2zM82 444h1v1h-1zM71 445h2v1h-2zM79 445h4v1h-4z" fill="#00ff00" shape-rendering="crispEdges"/><g stroke="#00ff00" fill="none" stroke-width="1" shape-rendering="crispEdges" transform="translate(0.5,0.5)"><polyline points="85,431 86,430 88,430 89,432 89,435 88,436 86,436"/><polyline points="88,436 89,438 89,442 88,444 86,444 85,442"/></g><g stroke="#00ff00" fill="none" stroke-width="1" shape-rendering="crispEdges" transform="translate(0.5,0.5)"><polyline points="95,437 93,438 90,436 90,432 92,430 94,431 95,433 95,437 93,441 92,444"/></g><path d="M97 437h12v1h-12zM97 438h12v1h-12z" fill="#00ff00" shape-rendering="crispEdges"/><path d="M115 428h1v1h-1zM115 429h1v1h-1zM115 430h1v1h-1zM115 431h2v1h-2zM110 433h11v1h-11zM111 434h10v1h-10zM113 437h1v1h-1zM117 437h1v1h-1zM113 438h1v1h-1zM118 438h1v1h-1zM112 439h2v1h-2zM118 439h1v1h-1zM112 440h1v1h-1zM119 440h1v1h-1zM112 441h1v1h-1zM119 441h1v1h-1zM111 442h1v1h-1zM119 442h2v1h-2zM111 443h1v1h-1zM120 443h1v1h-1zM110 444h2v1h-2zM120 444h1v1h-1zM110 445h1v1h-1z" fill="#00ff00" shape-rendering="crispEdges"/><path d="M124 428h1v1h-1zM129 428h1v1h-1zM123 429h4v1h-4zM129 429h1v1h-1zM123 430h4v1h-4zM129 430h1v1h-1zM123 431h1v1h-1zM126 431h1v1h-1zM128 431h5v1h-5zM122 432h1v1h-1zM125 432h2v1h-2zM128 432h1v1h-1zM132 432h1v1h-1zM122 433h8v1h-8zM131 433h1v1h-1zM126 434h2v1h-2zM129 434h1v1h-1zM131 434h1v1h-1zM126 435h1v1h-1zM129 435h1v1h-1zM131 435h1v1h-1zM123 436h4v1h-4zM130 436h2v1h-2zM126 437h1v1h-1zM130 437h1v1h-1zM126 438h1v1h-1zM129 438h3v1h-3zM126 439h1v1h-1zM129 439h1v1h-1zM131 439h1v1h-1zM122 440h7v1h-7zM132 440h1v1h-1zM123 442h1v1h-1zM126 442h1v1h-1zM128 442h1v1h-1zM131 442h1v1h-1zM123 443h1v1h-1zM126 443h1v1h-1zM129 443h1v1h-1zM132 443h1v1h-1zM123 444h1v1h-1zM126 444h1v1h-1zM129 444h1v1h-1zM132 444h1v1h-1zM122 445h1v1h-1zM126 445h1v1h-1zM129 445h1v1h-1zM132 445h1v1h-1z" fill="#00ff00" shape-rendering="crispEdges"/><path d="M287 499h1v1h-1zM287 500h1v1h-1zM287 501h1v1h-1zM287 502h1v1h-1zM282 503h11v1h-11zM287 504h1v1h-1zM287 505h1v1h-1zM287 506h1v1h-1zM281 507h13v1h-13zM286 508h3v1h-3zM286 509h3v1h-3zM285 510h1v1h-1zM287 510h1v1h-1zM289 510h1v1h-1zM284 511h2v1h-2zM287 511h1v1h-1zM289 511h2v1h-2zM283 512h2v1h-2zM287 512h1v1h-1zM290 512h2v1h-2zM282 513h2v1h-2zM287 513h1v1h-1zM291 513h2v1h-2zM281 514h2v1h-2zM287 514h1v1h-1zM292 514h2v1h-2zM287 515h1v1h-1zM287 516h1v1h-1z" fill="#00ff00" shape-rendering="crispEdges"/><path d="M299 503h1v1h-1zM299 504h1v1h-1zM299 505h1v1h-1zM295 506h1v1h-1zM299 506h1v1h-1zM303 506h1v1h-1zM295 507h1v1h-1zM299 507h1v1h-1zM303 507h1v1h-1zM295 508h1v1h-1zM299 508h1v1h-1zM303 508h1v1h-1zM295 509h1v1h-1zM299 509h1v1h-1zM303 509h1v1h-1zM295 510h1v1h-1zM299 510h1v1h-1zM303 510h1v1h-1zM295 511h1v1h-1zM299 511h1v1h-1zM303 511h1v1h-1zM295 512h1v1h-1zM299 512h1v1h-1zM303 512h1v1h-1zM295 513h1v1h-1zM299 513h1v1h-1zM303 513h1v1h-1zM295 514h9v1h-9zM295 515h9v1h-9z" fill="#00ff00" shape-rendering="crispEdges"/><g stroke="#00ff00" fill="none" stroke-width="1" shape-rendering="crispEdges" transform="translate(0.5,0.5)"><polyline points="306,501 308,501 309,503 309,505 306,507 304,505 304,503 306,501"/><polyline points="306,507 309,509 309,512 306,514 304,512 304,509 306,507"/></g><g stroke="#00ff00" fill="none" stroke-width="1" shape-rendering="crispEdges" transform="translate(0.5,0.5)"><polyline points="316,501 311,501 310,507 314,506 316,508 316,512 315,514 312,514 310,513"/></g><path d="M319 501h11v1h-11zM323 502h1v1h-1zM323 503h1v1h-1zM323 504h1v1h-1zM323 505h1v1h-1zM321 506h7v1h-7zM320 507h9v1h-9zM323 508h1v1h-1zM328 508h1v1h-1zM323 509h1v1h-1zM327 509h2v1h-2zM322 510h2v1h-2zM327 510h2v1h-2zM322 511h1v1h-1zM327 511h1v1h-1zM322 512h1v1h-1zM327 512h1v1h-1zM322 513h1v1h-1zM327 513h1v1h-1zM319 514h12v1h-12zM319 515h12v1h-12z" fill="#00ff00" shape-rendering="crispEdges"/><path d="M333 501h11v1h-11zM337 502h1v1h-1zM337 503h1v1h-1zM337 504h1v1h-1zM337 505h1v1h-1zM335 506h7v1h-7zM334 507h8v1h-8zM337 508h1v1h-1zM341 508h1v1h-1zM336 509h1v1h-1zM341 509h1v1h-1zM336 510h1v1h-1zM341 510h1v1h-1zM336 511h1v1h-1zM341 511h1v1h-1zM336 512h1v1h-1zM341 512h1v1h-1zM336 513h1v1h-1zM341 513h1v1h-1zM333 514h11v1h-11zM333 515h11v1h-11z" fill="#00ff00" shape-rendering="crispEdges"/><path d="M350 499h1v1h-1zM347 500h1v1h-1zM350 500h1v1h-1zM347 501h1v1h-1zM350 501h1v1h-1zM347 502h1v1h-1zM350 502h1v1h-1zM346 503h10v1h-10zM346 504h1v1h-1zM350 504h1v1h-1zM346 505h1v1h-1zM350 505h1v1h-1zM345 506h1v1h-1zM350 506h1v1h-1zM345 507h1v1h-1zM350 507h1v1h-1zM350 508h1v1h-1zM346 509h10v1h-10zM350 510h1v1h-1zM350 511h1v1h-1zM350 512h1v1h-1zM350 513h1v1h-1zM350 514h1v1h-1zM350 515h1v1h-1zM345 516h12v1h-12z" fill="#00ff00" shape-rendering="crispEdges"/><path d="M519 499h1v1h-1zM519 500h1v1h-1zM514 501h11v1h-11zM516 503h1v1h-1zM518 503h1v1h-1zM520 503h1v1h-1zM522 503h1v1h-1zM516 504h1v1h-1zM519 504h2v1h-2zM522 504h1v1h-1zM516 505h1v1h-1zM518 505h1v1h-1zM520 505h1v1h-1zM522 505h1v1h-1zM516 506h2v1h-2zM522 506h1v1h-1zM516 507h7v1h-7zM519 508h1v1h-1zM515 509h9v1h-9zM515 510h9v1h-9zM515 511h1v1h-1zM518 511h1v1h-1zM520 511h1v1h-1zM523 511h1v1h-1zM515 512h1v1h-1zM517 512h1v1h-1zM521 512h1v1h-1zM523 512h1v1h-1zM515 513h1v1h-1zM517 513h5v1h-5zM523 513h1v1h-1zM515 514h1v1h-1zM523 514h1v1h-1zM515 515h1v1h-1zM522 515h2v1h-2zM522 516h1v1h-1z" fill="#00ff00" shape-rendering="crispEdges"/><g stroke="#00ff00" fill="none" stroke-width="1" shape-rendering="crispEdges" transform="translate(0.5,0.5)"><polyline points="526,503 528,500 528,514"/></g><g stroke="#00ff00" fill="none" stroke-width="1" shape-rendering="crispEdges" transform="translate(0.5,0.5)"><polyline points="530,500 535,500 533,514"/></g><path d="M539 501h9v1h-9zM540 502h8v1h-8zM540 507h7v1h-7zM539 513h10v1h-10zM539 514h10v1h-10z" fill="#00ff00" shape-rendering="crispEdges"/><path d="M551 500h10v1h-10zM556 501h1v1h-1zM556 502h1v1h-1zM556 503h1v1h-1zM556 504h1v1h-1zM556 505h1v1h-1zM551 506h11v1h-11zM555 507h2v1h-2zM555 508h2v1h-2zM555 509h3v1h-3zM555 510h1v1h-1zM557 510h1v1h-1zM554 511h1v1h-1zM557 511h1v1h-1zM553 512h2v1h-2zM558 512h1v1h-1zM553 513h1v1h-1zM558 513h2v1h-2zM552 514h1v1h-1zM559 514h2v1h-2zM551 515h1v1h-1zM560 515h2v1h-2z" fill="#00ff00" shape-rendering="crispEdges"/><path d="M563 499h12v1h-12zM563 500h12v1h-12zM566 501h1v1h-1zM570 501h1v1h-1zM565 502h2v1h-2zM570 502h1v1h-1zM565 503h1v1h-1zM570 503h1v1h-1zM565 504h4v1h-4zM570 504h1v1h-1zM574 504h1v1h-1zM564 505h7v1h-7zM573 505h1v1h-1zM564 506h1v1h-1zM568 506h1v1h-1zM570 506h1v1h-1zM572 506h1v1h-1zM564 507h1v1h-1zM568 507h1v1h-1zM570 507h2v1h-2zM563 508h1v1h-1zM565 508h1v1h-1zM568 508h1v1h-1zM570 508h1v1h-1zM566 509h3v1h-3zM570 509h1v1h-1zM566 510h2v1h-2zM570 510h1v1h-1zM567 511h1v1h-1zM570 511h1v1h-1zM566 512h1v1h-1zM570 512h1v1h-1zM575 512h1v1h-1zM565 513h2v1h-2zM570 513h1v1h-1zM575 513h1v1h-1zM564 514h2v1h-2zM570 514h1v1h-1zM575 514h1v1h-1zM563 515h2v1h-2zM570 515h5v1h-5z" fill="#00ff00" shape-rendering="crispEdges"/><path d="M639 60h9v1h-9zM643 61h1v1h-1zM639 62h10v1h-10zM638 63h1v1h-1zM643 63h1v1h-1zM648 63h1v1h-1zM638 64h1v1h-1zM640 64h4v1h-4zM645 64h4v1h-4zM638 65h1v1h-1zM643 65h1v1h-1zM648 65h1v1h-1zM640 66h4v1h-4zM645 66h3v1h-3zM643 67h1v1h-1zM639 68h10v1h-10zM639 69h9v1h-9zM639 70h1v1h-1zM641 70h7v1h-7zM639 71h1v1h-1zM639 72h10v1h-10zM639 73h10v1h-10zM639 74h1v1h-1zM641 74h1v1h-1zM644 74h1v1h-1zM647 74h1v1h-1zM639 75h1v1h-1zM641 75h1v1h-1zM645 75h2v1h-2zM638 76h1v1h-1zM641 76h1v1h-1zM643 76h2v1h-2zM646 76h2v1h-2zM638 77h1v1h-1zM640 77h4v1h-4zM647 77h2v1h-2z" fill="#00ff00" shape-rendering="crispEdges"/><g stroke="#00ff00" fill="none" stroke-width="1" shape-rendering="crispEdges" transform="translate(0.5,0.5)"><polyline points="638,87 642,87 641,102"/></g><g stroke="#00ff00" fill="none" stroke-width="1" shape-rendering="crispEdges" transform="translate(0.5,0.5)"><polyline points="649,102 649,87 644,97 650,97"/></g><path d="M643 111h1v1h-1zM644 112h1v1h-1zM644 113h1v1h-1zM644 114h1v1h-1zM639 116h11v1h-11zM646 119h1v1h-1zM641 120h2v1h-2zM646 120h1v1h-1zM641 121h1v1h-1zM646 121h2v1h-2zM641 122h1v1h-1zM647 122h1v1h-1zM640 123h2v1h-2zM647 123h1v1h-1zM640 124h1v1h-1zM648 124h1v1h-1zM639 125h2v1h-2zM648 125h1v1h-1zM639 126h1v1h-1zM648 126h2v1h-2zM638 127h2v1h-2zM649 127h1v1h-1z" fill="#00ff00" shape-rendering="crispEdges"/><path d="M647 137h2v1h-2zM638 138h4v1h-4zM644 138h4v1h-4zM641 139h1v1h-1zM643 139h2v1h-2zM646 139h1v1h-1zM640 140h1v1h-1zM646 140h1v1h-1zM640 141h1v1h-1zM646 141h1v1h-1zM639 142h1v1h-1zM643 142h1v1h-1zM646 142h1v1h-1zM639 143h3v1h-3zM643 143h1v1h-1zM646 143h4v1h-4zM639 144h3v1h-3zM643 144h1v1h-1zM646 144h1v1h-1zM641 145h1v1h-1zM643 145h1v1h-1zM646 145h1v1h-1zM641 146h1v1h-1zM643 146h1v1h-1zM646 146h1v1h-1zM639 147h1v1h-1zM641 147h1v1h-1zM643 147h1v1h-1zM646 147h1v1h-1zM639 148h3v1h-3zM643 148h1v1h-1zM646 148h1v1h-1zM639 149h2v1h-2zM643 149h7v1h-7zM640 150h1v1h-1zM639 151h3v1h-3zM639 152h1v1h-1zM642 152h8v1h-8zM638 153h1v1h-1zM645 153h4v1h-4z" fill="#00ff00" shape-rendering="crispEdges"/><path d="M638 162h12v1h-12zM641 163h1v1h-1zM645 163h1v1h-1zM640 164h2v1h-2zM645 164h1v1h-1zM640 165h1v1h-1zM645 165h1v1h-1zM640 166h4v1h-4zM645 166h1v1h-1zM648 166h1v1h-1zM639 167h5v1h-5zM645 167h1v1h-1zM647 167h2v1h-2zM639 168h1v1h-1zM643 168h1v1h-1zM645 168h1v1h-1zM647 168h1v1h-1zM638 169h2v1h-2zM643 169h1v1h-1zM645 169h2v1h-2zM638 170h1v1h-1zM640 170h1v1h-1zM643 170h1v1h-1zM645 170h1v1h-1zM640 171h3v1h-3zM645 171h1v1h-1zM641 172h2v1h-2zM645 172h1v1h-1zM641 173h2v1h-2zM645 173h1v1h-1zM641 174h1v1h-1zM645 174h1v1h-1zM649 174h1v1h-1zM640 175h1v1h-1zM645 175h1v1h-1zM649 175h1v1h-1zM639 176h2v1h-2zM645 176h1v1h-1zM649 176h1v1h-1zM638 177h1v1h-1zM645 177h5v1h-5z" fill="#00ff00" shape-rendering="crispEdges"/><path d="M662 294h5v1h-5zM668 294h5v1h-5zM662 295h5v1h-5zM668 295h5v1h-5zM662 296h1v1h-1zM666 296h1v1h-1zM668 296h1v1h-1zM672 296h1v1h-1zM662 297h5v1h-5zM668 297h5v1h-5zM662 298h1v1h-1zM668 298h1v1h-1zM662 299h1v1h-1zM666 299h1v1h-1zM668 299h1v1h-1zM672 299h1v1h-1zM662 300h5v1h-5zM668 300h5v1h-5zM664 301h1v1h-1zM669 301h1v1h-1zM664 302h1v1h-1zM669 302h1v1h-1zM662 303h11v1h-11zM662 304h11v1h-11zM664 305h1v1h-1zM669 305h1v1h-1zM664 306h1v1h-1zM669 306h1v1h-1zM661 307h13v1h-13zM662 308h11v1h-11zM664 309h2v1h-2zM669 309h2v1h-2zM663 310h2v1h-2zM670 310h2v1h-2zM661 311h3v1h-3zM671 311h2v1h-2z" fill="#00ff00" shape-rendering="crispEdges"/><g stroke="#00ff00" fill="none" stroke-width="1" shape-rendering="crispEdges" transform="translate(0.5,0.5)"><polyline points="665,320 662,326 661,328 661,334 662,335 665,335 666,334 666,329 665,327 662,327 661,329"/></g><g stroke="#00ff00" fill="none" stroke-width="1" shape-rendering="crispEdges" transform="translate(0.5,0.5)"><polyline points="667,322 668,320 671,320 672,322 672,326 670,327 668,327"/><polyline points="670,327 672,329 672,333 671,335 668,335 667,334"/></g><path d="M665 345h1v1h-1zM665 346h1v1h-1zM665 347h1v1h-1zM665 348h1v1h-1zM665 349h1v1h-1zM665 350h1v1h-1zM671 350h3v1h-3zM665 351h1v1h-1zM667 351h6v1h-6zM663 352h6v1h-6zM661 353h5v1h-5zM665 354h1v1h-1zM665 355h1v1h-1zM665 356h1v1h-1zM665 357h1v1h-1zM665 358h1v1h-1zM665 359h1v1h-1zM672 359h1v1h-1zM665 360h1v1h-1zM672 360h1v1h-1zM665 361h1v1h-1zM672 361h1v1h-1zM665 362h7v1h-7z" fill="#00ff00" shape-rendering="crispEdges"/><path d="M664 370h1v1h-1zM668 370h1v1h-1zM664 371h1v1h-1zM668 371h1v1h-1zM670 371h1v1h-1zM663 372h1v1h-1zM668 372h1v1h-1zM670 372h1v1h-1zM663 373h1v1h-1zM668 373h1v1h-1zM671 373h1v1h-1zM663 374h1v1h-1zM668 374h1v1h-1zM671 374h1v1h-1zM662 375h2v1h-2zM668 375h1v1h-1zM662 376h10v1h-10zM661 377h3v1h-3zM667 377h2v1h-2zM661 378h1v1h-1zM663 378h1v1h-1zM668 378h1v1h-1zM663 379h1v1h-1zM667 379h2v1h-2zM663 380h1v1h-1zM667 380h2v1h-2zM663 381h1v1h-1zM667 381h1v1h-1zM669 381h1v1h-1zM663 382h1v1h-1zM667 382h1v1h-1zM669 382h1v1h-1zM663 383h1v1h-1zM666 383h2v1h-2zM669 383h1v1h-1zM663 384h1v1h-1zM666 384h1v1h-1zM669 384h2v1h-2zM663 385h1v1h-1zM666 385h1v1h-1zM670 385h1v1h-1zM663 386h1v1h-1zM665 386h1v1h-1zM670 386h2v1h-2zM663 387h3v1h-3zM671 387h1v1h-1z" fill="#00ff00" shape-rendering="crispEdges"/><path d="M662 396h3v1h-3zM666 396h6v1h-6zM662 397h10v1h-10zM662 398h1v1h-1zM664 398h1v1h-1zM668 398h1v1h-1zM662 399h1v1h-1zM664 399h1v1h-1zM668 399h1v1h-1zM662 400h1v1h-1zM664 400h1v1h-1zM668 400h1v1h-1zM662 401h1v1h-1zM664 401h1v1h-1zM668 401h1v1h-1zM662 402h3v1h-3zM668 402h1v1h-1zM662 403h1v1h-1zM664 403h1v1h-1zM666 403h6v1h-6zM662 404h1v1h-1zM664 404h1v1h-1zM668 404h1v1h-1zM662 405h1v1h-1zM664 405h1v1h-1zM668 405h1v1h-1zM662 406h1v1h-1zM664 406h1v1h-1zM668 406h1v1h-1zM662 407h1v1h-1zM664 407h1v1h-1zM668 407h1v1h-1zM662 408h3v1h-3zM668 408h1v1h-1zM662 409h1v1h-1zM668 409h1v1h-1zM665 410h7v1h-7zM665 411h7v1h-7z" fill="#00ff00" shape-rendering="crispEdges"/><path d="M58 42h10v1h-10zM58 43h1v1h-1zM67 43h1v1h-1zM58 44h1v1h-1zM61 44h1v1h-1zM67 44h1v1h-1zM58 45h1v1h-1zM61 45h5v1h-5zM67 45h1v1h-1zM58 46h1v1h-1zM60 46h2v1h-2zM64 46h1v1h-1zM67 46h1v1h-1zM58 47h4v1h-4zM63 47h2v1h-2zM67 47h1v1h-1zM58 48h1v1h-1zM62 48h2v1h-2zM67 48h1v1h-1zM58 49h1v1h-1zM61 49h3v1h-3zM67 49h1v1h-1zM58 50h4v1h-4zM64 50h2v1h-2zM67 50h1v1h-1zM58 51h2v1h-2zM61 51h2v1h-2zM67 51h1v1h-1zM58 52h1v1h-1zM62 52h2v1h-2zM67 52h1v1h-1zM58 53h1v1h-1zM67 53h1v1h-1zM58 54h1v1h-1zM60 54h4v1h-4zM67 54h1v1h-1zM58 55h1v1h-1zM63 55h2v1h-2zM67 55h1v1h-1zM58 56h1v1h-1zM67 56h1v1h-1zM58 57h10v1h-10zM58 58h1v1h-1zM67 58h1v1h-1z" fill="#0000ff" shape-rendering="crispEdges"/><g transform="translate(0.5,0.5)" fill="none" shape-rendering="crispEdges"><polyline points="69,57 72,50 75,43 76,46 77,50 78,54 78,56 79,57 81,57" stroke="#0000ff"/></g><path d="M333 53h8v1h-8zM333 54h8v1h-8zM333 55h1v1h-1zM335 55h1v1h-1zM337 55h1v1h-1zM340 55h1v1h-1zM333 56h1v1h-1zM335 56h1v1h-1zM337 56h1v1h-1zM340 56h1v1h-1zM333 57h3v1h-3zM337 57h1v1h-1zM340 57h1v1h-1zM333 58h1v1h-1zM335 58h1v1h-1zM337 58h1v1h-1zM340 58h1v1h-1zM333 59h1v1h-1zM335 59h1v1h-1zM337 59h4v1h-4zM333 60h1v1h-1zM336 60h2v1h-2zM340 60h1v1h-1zM333 61h1v1h-1zM336 61h2v1h-2zM340 61h1v1h-1zM333 62h3v1h-3zM337 62h1v1h-1zM340 62h1v1h-1zM333 63h2v1h-2zM337 63h1v1h-1zM340 63h1v1h-1zM333 64h1v1h-1zM337 64h4v1h-4zM333 65h1v1h-1zM337 65h4v1h-4zM333 66h1v1h-1zM337 66h1v1h-1zM340 66h1v1h-1z" fill="#00ff00" shape-rendering="crispEdges"/><path d="M345 53h1v1h-1zM344 54h2v1h-2zM344 55h1v1h-1zM347 55h1v1h-1zM343 56h2v1h-2zM347 56h2v1h-2zM343 57h1v1h-1zM347 57h2v1h-2zM342 58h8v1h-8zM349 59h1v1h-1zM343 60h6v1h-6zM343 61h6v1h-6zM343 62h1v1h-1zM348 62h1v1h-1zM343 63h1v1h-1zM348 63h1v1h-1zM343 64h1v1h-1zM348 64h1v1h-1zM343 65h6v1h-6zM343 66h1v1h-1zM348 66h1v1h-1z" fill="#00ff00" shape-rendering="crispEdges"/><path d="M254 129h8v1h-8zM254 130h1v1h-1zM254 131h4v1h-4zM260 131h1v1h-1zM254 132h1v1h-1zM256 132h2v1h-2zM260 132h1v1h-1zM254 133h8v1h-8zM254 134h2v1h-2zM257 134h1v1h-1zM260 134h1v1h-1zM254 135h2v1h-2zM257 135h2v1h-2zM260 135h1v1h-1zM254 136h5v1h-5zM260 136h1v1h-1zM254 137h1v1h-1zM257 137h1v1h-1zM259 137h2v1h-2zM254 138h2v1h-2zM257 138h1v1h-1zM259 138h2v1h-2zM254 139h1v1h-1zM256 139h2v1h-2zM260 139h1v1h-1zM254 140h1v1h-1zM256 140h2v1h-2zM260 140h1v1h-1zM254 141h4v1h-4zM259 141h2v1h-2zM259 142h1v1h-1z" fill="#00ff00" shape-rendering="crispEdges"/><path d="M266 129h1v1h-1zM264 130h6v1h-6zM263 131h7v1h-7zM263 132h1v1h-1zM269 132h1v1h-1zM263 133h7v1h-7zM263 134h1v1h-1zM267 134h1v1h-1zM263 135h1v1h-1zM267 135h1v1h-1zM263 136h8v1h-8zM263 137h1v1h-1zM266 137h1v1h-1zM263 138h1v1h-1zM266 138h4v1h-4zM263 139h1v1h-1zM266 139h1v1h-1zM269 139h1v1h-1zM263 140h1v1h-1zM265 140h1v1h-1zM269 140h1v1h-1zM263 141h3v1h-3zM267 141h3v1h-3zM268 142h1v1h-1z" fill="#00ff00" shape-rendering="crispEdges"/><path d="M392 166h1v1h-1zM389 167h7v1h-7zM389 168h7v1h-7zM389 169h1v1h-1zM391 169h3v1h-3zM395 169h1v1h-1zM390 170h4v1h-4zM389 171h3v1h-3zM393 171h1v1h-1zM391 172h2v1h-2zM390 173h4v1h-4zM389 174h3v1h-3zM393 174h3v1h-3zM390 175h5v1h-5zM390 176h1v1h-1zM394 176h1v1h-1zM390 177h5v1h-5zM390 178h5v1h-5z" fill="#00ff00" shape-rendering="crispEdges"/><path d="M398 166h7v1h-7zM398 167h1v1h-1zM398 168h1v1h-1zM398 169h6v1h-6zM398 170h6v1h-6zM398 171h1v1h-1zM401 171h1v1h-1zM398 172h1v1h-1zM401 172h1v1h-1zM398 173h1v1h-1zM401 173h1v1h-1zM398 174h1v1h-1zM401 174h1v1h-1zM397 175h1v1h-1zM401 175h1v1h-1zM397 176h1v1h-1zM401 176h1v1h-1zM397 177h1v1h-1zM401 177h1v1h-1zM397 178h1v1h-1zM400 178h2v1h-2z" fill="#00ff00" shape-rendering="crispEdges"/><path d="M61 191h1v1h-1zM61 192h1v1h-1zM64 192h1v1h-1zM59 193h7v1h-7zM59 194h6v1h-6zM61 195h1v1h-1zM64 195h1v1h-1zM61 196h1v1h-1zM64 196h1v1h-1zM59 197h7v1h-7zM61 198h2v1h-2zM65 198h1v1h-1zM61 199h1v1h-1zM65 199h1v1h-1zM61 200h1v1h-1zM65 200h1v1h-1zM61 201h1v1h-1zM64 201h2v1h-2zM61 202h1v1h-1zM63 202h2v1h-2zM61 203h1v1h-1z" fill="#00ff00" shape-rendering="crispEdges"/><path d="M70 191h1v1h-1zM68 192h6v1h-6zM68 193h6v1h-6zM68 194h1v1h-1zM73 194h1v1h-1zM68 195h6v1h-6zM68 196h1v1h-1zM71 196h1v1h-1zM68 197h6v1h-6zM68 198h6v1h-6zM68 199h1v1h-1zM70 199h1v1h-1zM68 200h1v1h-1zM70 200h4v1h-4zM67 201h1v1h-1zM70 201h1v1h-1zM73 201h1v1h-1zM67 202h1v1h-1zM69 202h1v1h-1zM73 202h1v1h-1zM67 203h3v1h-3zM72 203h2v1h-2z" fill="#00ff00" shape-rendering="crispEdges"/><path d="M175 218h1v1h-1zM178 218h2v1h-2zM175 219h2v1h-2zM178 219h3v1h-3zM174 220h3v1h-3zM178 220h2v1h-2zM174 221h1v1h-1zM176 221h1v1h-1zM178 221h2v1h-2zM175 222h1v1h-1zM177 222h4v1h-4zM174 223h5v1h-5zM174 224h6v1h-6zM174 225h7v1h-7zM175 226h5v1h-5zM175 227h5v1h-5zM175 228h1v1h-1zM177 228h3v1h-3zM175 229h5v1h-5zM175 230h2v1h-2zM179 230h2v1h-2z" fill="#00ff00" shape-rendering="crispEdges"/><path d="M183 218h7v1h-7zM183 219h1v1h-1zM183 220h1v1h-1zM183 221h7v1h-7zM183 222h7v1h-7zM183 223h1v1h-1zM187 223h1v1h-1zM183 224h1v1h-1zM187 224h1v1h-1zM183 225h1v1h-1zM187 225h1v1h-1zM183 226h1v1h-1zM187 226h1v1h-1zM183 227h1v1h-1zM187 227h1v1h-1zM183 228h1v1h-1zM187 228h1v1h-1zM182 229h1v1h-1zM187 229h1v1h-1zM182 230h1v1h-1zM185 230h2v1h-2z" fill="#00ff00" shape-rendering="crispEdges"/><path d="M528 171h1v1h-1zM532 171h1v1h-1zM528 172h1v1h-1zM532 172h1v1h-1zM528 173h1v1h-1zM532 173h1v1h-1zM528 174h1v1h-1zM532 174h1v1h-1zM528 175h1v1h-1zM532 175h1v1h-1zM528 176h1v1h-1zM532 176h1v1h-1zM528 177h1v1h-1zM532 177h1v1h-1zM528 178h1v1h-1zM532 178h1v1h-1zM528 179h1v1h-1zM532 179h1v1h-1zM528 180h1v1h-1zM532 180h1v1h-1zM534 180h1v1h-1zM527 181h2v1h-2zM532 181h1v1h-1zM534 181h1v1h-1zM527 182h1v1h-1zM532 182h3v1h-3zM527 183h1v1h-1zM532 183h2v1h-2z" fill="#00ff00" shape-rendering="crispEdges"/><path d="M536 171h7v1h-7zM541 172h2v1h-2zM540 173h2v1h-2zM539 174h2v1h-2zM539 175h1v1h-1zM539 176h1v1h-1zM536 177h8v1h-8zM539 178h1v1h-1zM539 179h1v1h-1zM539 180h1v1h-1zM539 181h1v1h-1zM539 182h1v1h-1zM538 183h2v1h-2z" fill="#00ff00" shape-rendering="crispEdges"/><path d="M549 171h1v1h-1zM546 172h7v1h-7zM546 173h7v1h-7zM546 174h1v1h-1zM552 174h1v1h-1zM546 175h7v1h-7zM546 176h1v1h-1zM549 176h1v1h-1zM546 177h6v1h-6zM546 178h7v1h-7zM545 179h2v1h-2zM548 179h1v1h-1zM545 180h1v1h-1zM548 180h4v1h-4zM545 181h1v1h-1zM548 181h1v1h-1zM551 181h1v1h-1zM545 182h1v1h-1zM547 182h1v1h-1zM551 182h1v1h-1zM545 183h3v1h-3zM550 183h2v1h-2z" fill="#00ff00" shape-rendering="crispEdges"/><path d="M568 244h1v1h-1zM565 245h6v1h-6zM565 246h7v1h-7zM565 247h1v1h-1zM567 247h1v1h-1zM571 247h1v1h-1zM566 248h4v1h-4zM565 249h3v1h-3zM569 249h1v1h-1zM565 250h1v1h-1zM567 250h2v1h-2zM567 251h3v1h-3zM565 252h3v1h-3zM569 252h3v1h-3zM565 253h7v1h-7zM566 254h1v1h-1zM570 254h1v1h-1zM566 255h1v1h-1zM570 255h1v1h-1zM566 256h5v1h-5z" fill="#00ff00" shape-rendering="crispEdges"/><path d="M576 244h1v1h-1zM574 245h6v1h-6zM574 246h6v1h-6zM574 247h1v1h-1zM579 247h1v1h-1zM574 248h6v1h-6zM574 249h1v1h-1zM577 249h1v1h-1zM574 250h1v1h-1zM577 250h1v1h-1zM574 251h7v1h-7zM574 252h1v1h-1zM576 252h1v1h-1zM574 253h1v1h-1zM576 253h4v1h-4zM573 254h2v1h-2zM576 254h1v1h-1zM579 254h1v1h-1zM573 255h1v1h-1zM575 255h2v1h-2zM579 255h1v1h-1zM573 256h1v1h-1zM575 256h1v1h-1zM578 256h2v1h-2zM578 257h1v1h-1z" fill="#00ff00" shape-rendering="crispEdges"/><path d="M256 348h1v1h-1zM260 348h1v1h-1zM256 349h3v1h-3zM260 349h1v1h-1zM258 350h5v1h-5zM258 351h5v1h-5zM256 352h1v1h-1zM258 352h1v1h-1zM260 352h1v1h-1zM256 353h1v1h-1zM260 353h1v1h-1zM258 354h5v1h-5zM259 355h1v1h-1zM261 355h1v1h-1zM257 356h1v1h-1zM259 356h1v1h-1zM261 356h1v1h-1zM257 357h1v1h-1zM259 357h1v1h-1zM261 357h1v1h-1zM256 358h1v1h-1zM259 358h1v1h-1zM261 358h1v1h-1zM256 359h1v1h-1zM258 359h1v1h-1zM261 359h2v1h-2zM256 360h3v1h-3zM261 360h2v1h-2z" fill="#00ff00" shape-rendering="crispEdges"/><path d="M269 348h2v1h-2zM265 349h5v1h-5zM267 350h2v1h-2zM267 351h2v1h-2zM265 352h6v1h-6zM267 353h2v1h-2zM267 354h2v1h-2zM265 355h6v1h-6zM264 356h8v1h-8zM267 357h2v1h-2zM267 358h2v1h-2zM267 359h2v1h-2zM266 360h2v1h-2zM266 361h2v1h-2z" fill="#00ff00" shape-rendering="crispEdges"/><path d="M273 348h1v1h-1zM276 348h4v1h-4zM273 349h8v1h-8zM274 350h1v1h-1zM279 350h2v1h-2zM273 351h1v1h-1zM279 351h2v1h-2zM273 352h1v1h-1zM275 352h6v1h-6zM273 353h1v1h-1zM275 353h1v1h-1zM277 353h4v1h-4zM273 354h1v1h-1zM275 354h1v1h-1zM277 354h4v1h-4zM273 355h1v1h-1zM275 355h6v1h-6zM273 356h1v1h-1zM275 356h1v1h-1zM277 356h4v1h-4zM273 357h1v1h-1zM275 357h1v1h-1zM277 357h4v1h-4zM273 358h1v1h-1zM275 358h3v1h-3zM279 358h2v1h-2zM273 359h1v1h-1zM279 359h2v1h-2zM273 360h1v1h-1zM279 360h2v1h-2zM279 361h1v1h-1z" fill="#00ff00" shape-rendering="crispEdges"/><path d="M328 358h1v1h-1zM325 359h6v1h-6zM325 360h7v1h-7zM325 361h1v1h-1zM327 361h1v1h-1zM331 361h1v1h-1zM326 362h4v1h-4zM325 363h3v1h-3zM329 363h1v1h-1zM325 364h1v1h-1zM327 364h2v1h-2zM327 365h3v1h-3zM325 366h3v1h-3zM329 366h3v1h-3zM325 367h7v1h-7zM326 368h1v1h-1zM330 368h1v1h-1zM326 369h1v1h-1zM330 369h1v1h-1zM326 370h5v1h-5z" fill="#00ff00" shape-rendering="crispEdges"/><path d="M336 358h1v1h-1zM334 359h6v1h-6zM334 360h6v1h-6zM334 361h1v1h-1zM339 361h1v1h-1zM334 362h6v1h-6zM334 363h1v1h-1zM337 363h1v1h-1zM334 364h1v1h-1zM337 364h1v1h-1zM334 365h7v1h-7zM334 366h1v1h-1zM336 366h1v1h-1zM334 367h1v1h-1zM336 367h4v1h-4zM333 368h2v1h-2zM336 368h1v1h-1zM339 368h1v1h-1zM333 369h1v1h-1zM335 369h2v1h-2zM339 369h1v1h-1zM333 370h1v1h-1zM335 370h1v1h-1zM338 370h2v1h-2zM338 371h1v1h-1z" fill="#00ff00" shape-rendering="crispEdges"/><path d="M270 421h8v1h-8zM270 422h1v1h-1zM270 423h5v1h-5zM277 423h1v1h-1zM270 424h3v1h-3zM274 424h2v1h-2zM277 424h1v1h-1zM270 425h2v1h-2zM273 425h3v1h-3zM277 425h1v1h-1zM270 426h2v1h-2zM273 426h3v1h-3zM277 426h1v1h-1zM270 427h2v1h-2zM273 427h3v1h-3zM277 427h1v1h-1zM270 428h2v1h-2zM273 428h3v1h-3zM277 428h1v1h-1zM270 429h2v1h-2zM273 429h3v1h-3zM277 429h1v1h-1zM270 430h6v1h-6zM277 430h1v1h-1zM270 431h1v1h-1zM272 431h2v1h-2zM277 431h1v1h-1zM270 432h1v1h-1zM272 432h3v1h-3zM277 432h1v1h-1zM270 433h3v1h-3zM274 433h1v1h-1zM276 433h2v1h-2zM276 434h1v1h-1z" fill="#00ff00" shape-rendering="crispEdges"/><path d="M281 421h2v1h-2zM285 421h2v1h-2zM279 422h3v1h-3zM283 422h3v1h-3zM279 423h1v1h-1zM283 423h1v1h-1zM279 424h3v1h-3zM283 424h1v1h-1zM279 425h5v1h-5zM279 426h1v1h-1zM282 426h5v1h-5zM279 427h1v1h-1zM282 427h2v1h-2zM285 427h1v1h-1zM279 428h5v1h-5zM285 428h1v1h-1zM279 429h1v1h-1zM283 429h1v1h-1zM285 429h1v1h-1zM279 430h1v1h-1zM283 430h1v1h-1zM285 430h1v1h-1zM279 431h1v1h-1zM283 431h1v1h-1zM285 431h1v1h-1zM279 432h1v1h-1zM282 432h2v1h-2zM285 432h1v1h-1zM279 433h1v1h-1zM282 433h1v1h-1zM285 433h1v1h-1z" fill="#00ff00" shape-rendering="crispEdges"/><path d="M494 383h1v1h-1zM495 384h1v1h-1zM495 385h1v1h-1zM492 386h7v1h-7zM495 387h1v1h-1zM495 388h1v1h-1zM495 389h1v1h-1zM495 390h1v1h-1zM492 391h7v1h-7zM495 392h1v1h-1zM495 393h1v1h-1zM495 394h1v1h-1zM495 395h1v1h-1zM491 396h8v1h-8z" fill="#00ff00" shape-rendering="crispEdges"/><path d="M503 383h1v1h-1zM503 384h1v1h-1zM503 385h1v1h-1zM503 386h2v1h-2zM503 387h2v1h-2zM503 388h2v1h-2zM503 389h2v1h-2zM503 390h2v1h-2zM503 391h2v1h-2zM502 392h1v1h-1zM505 392h1v1h-1zM502 393h1v1h-1zM505 393h1v1h-1zM501 394h2v1h-2zM505 394h2v1h-2zM501 395h1v1h-1zM506 395h2v1h-2zM500 396h1v1h-1zM507 396h1v1h-1z" fill="#00ff00" shape-rendering="crispEdges"/><path d="M512 383h1v1h-1zM510 384h6v1h-6zM510 385h6v1h-6zM510 386h1v1h-1zM515 386h1v1h-1zM510 387h6v1h-6zM510 388h1v1h-1zM513 388h1v1h-1zM510 389h1v1h-1zM513 389h1v1h-1zM510 390h7v1h-7zM509 391h2v1h-2zM512 391h1v1h-1zM509 392h1v1h-1zM512 392h4v1h-4zM509 393h1v1h-1zM512 393h4v1h-4zM509 394h1v1h-1zM511 394h2v1h-2zM515 394h1v1h-1zM509 395h1v1h-1zM511 395h1v1h-1zM515 395h1v1h-1zM509 396h2v1h-2zM513 396h2v1h-2z" fill="#00ff00" shape-rendering="crispEdges"/><path d="M578 352h1v1h-1zM582 352h1v1h-1zM578 353h3v1h-3zM582 353h1v1h-1zM580 354h5v1h-5zM580 355h4v1h-4zM578 356h1v1h-1zM580 356h1v1h-1zM582 356h1v1h-1zM578 357h1v1h-1zM582 357h1v1h-1zM580 358h5v1h-5zM581 359h2v1h-2zM579 360h1v1h-1zM581 360h2v1h-2zM578 361h1v1h-1zM581 361h2v1h-2zM578 362h1v1h-1zM580 362h1v1h-1zM582 362h1v1h-1zM584 362h1v1h-1zM578 363h1v1h-1zM580 363h1v1h-1zM582 363h3v1h-3zM579 364h1v1h-1zM583 364h2v1h-2z" fill="#00ff00" shape-rendering="crispEdges"/><path d="M590 352h3v1h-3zM587 353h5v1h-5zM589 354h1v1h-1zM589 355h1v1h-1zM586 356h7v1h-7zM589 357h1v1h-1zM589 358h1v1h-1zM586 359h7v1h-7zM586 360h7v1h-7zM589 361h1v1h-1zM589 362h1v1h-1zM589 363h1v1h-1zM588 364h2v1h-2z" fill="#00ff00" shape-rendering="crispEdges"/><path d="M595 352h1v1h-1zM597 352h5v1h-5zM595 353h1v1h-1zM597 353h5v1h-5zM601 354h1v1h-1zM594 355h1v1h-1zM601 355h1v1h-1zM594 356h6v1h-6zM601 356h1v1h-1zM594 357h3v1h-3zM599 357h1v1h-1zM601 357h1v1h-1zM594 358h4v1h-4zM599 358h1v1h-1zM601 358h1v1h-1zM594 359h6v1h-6zM601 359h1v1h-1zM594 360h3v1h-3zM599 360h1v1h-1zM601 360h1v1h-1zM594 361h6v1h-6zM601 361h1v1h-1zM594 362h2v1h-2zM597 362h3v1h-3zM601 362h1v1h-1zM594 363h2v1h-2zM601 363h1v1h-1zM594 364h2v1h-2zM600 364h2v1h-2z" fill="#00ff00" shape-rendering="crispEdges"/><path d="M592 421h7v1h-7zM595 422h1v1h-1zM598 422h1v1h-1zM595 423h1v1h-1zM598 423h1v1h-1zM595 424h1v1h-1zM598 424h1v1h-1zM595 425h1v1h-1zM598 425h1v1h-1zM595 426h1v1h-1zM598 426h1v1h-1zM595 427h1v1h-1zM598 427h1v1h-1zM595 428h1v1h-1zM597 428h2v1h-2zM595 429h1v1h-1zM595 430h1v1h-1zM595 431h1v1h-1zM592 432h7v1h-7zM592 433h7v1h-7z" fill="#00ff00" shape-rendering="crispEdges"/><path d="M602 421h1v1h-1zM604 421h1v1h-1zM602 422h1v1h-1zM604 422h1v1h-1zM601 423h4v1h-4zM601 424h7v1h-7zM601 425h1v1h-1zM604 425h1v1h-1zM601 426h1v1h-1zM604 426h1v1h-1zM604 427h1v1h-1zM601 428h6v1h-6zM604 429h1v1h-1zM604 430h1v1h-1zM604 431h1v1h-1zM601 432h7v1h-7zM601 433h7v1h-7z" fill="#00ff00" shape-rendering="crispEdges"/><path d="M609 421h1v1h-1zM612 421h4v1h-4zM610 422h7v1h-7zM615 423h2v1h-2zM609 424h1v1h-1zM615 424h2v1h-2zM609 425h1v1h-1zM611 425h6v1h-6zM609 426h1v1h-1zM611 426h1v1h-1zM614 426h3v1h-3zM609 427h1v1h-1zM611 427h6v1h-6zM609 428h1v1h-1zM611 428h6v1h-6zM609 429h1v1h-1zM611 429h1v1h-1zM614 429h3v1h-3zM609 430h1v1h-1zM611 430h6v1h-6zM609 431h1v1h-1zM615 431h2v1h-2zM609 432h1v1h-1zM615 432h2v1h-2zM609 433h1v1h-1zM615 433h1v1h-1z" fill="#00ff00" shape-rendering="crispEdges"/><g stroke="#00ff00" fill="none" stroke-width="1" shape-rendering="crispEdges" transform="translate(0.5,0.5)"><polyline points="464,380 463,381 462,380 462,377 463,376 464,376 464,378 464,380 463,383 462,384"/></g><g stroke="#00ff00" fill="none" stroke-width="1" shape-rendering="crispEdges" transform="translate(0.5,0.5)"><polyline points="468,376 466,379 466,380 466,384 466,384 468,384 468,384 468,381 468,380 466,380 466,381"/></g><g stroke="#00ff00" fill="none" stroke-width="1" shape-rendering="crispEdges" transform="translate(0.5,0.5)"><polyline points="479,377 480,376 481,376 482,377 482,379 479,384 482,384"/></g><g stroke="#00ff00" fill="none" stroke-width="1" shape-rendering="crispEdges" transform="translate(0.5,0.5)"><polyline points="484,376 486,376 486,377 486,378 485,380 484,378 484,377 484,376"/><polyline points="485,380 486,381 486,383 485,384 484,383 484,381 485,380"/></g><g stroke="#00ff00" fill="none" stroke-width="1" shape-rendering="crispEdges" transform="translate(0.5,0.5)"><polyline points="450,396 450,389 448,394 451,394"/></g><g stroke="#00ff00" fill="none" stroke-width="1" shape-rendering="crispEdges" transform="translate(0.5,0.5)"><polyline points="453,390 454,389 454,396"/></g><g stroke="#00ff00" fill="none" stroke-width="1" shape-rendering="crispEdges" transform="translate(0.5,0.5)"><polyline points="496,403 495,406 494,408 494,411 495,412 496,412 497,411 497,408 496,407 495,407 494,408"/></g><g stroke="#00ff00" fill="none" stroke-width="1" shape-rendering="crispEdges" transform="translate(0.5,0.5)"><polyline points="498,404 499,403 500,403 501,404 501,406 500,407 499,407"/><polyline points="500,407 501,408 501,410 500,412 499,412 498,411"/></g><g stroke="#00ff00" fill="none" stroke-width="1" shape-rendering="crispEdges" transform="translate(0.5,0.5)"><polyline points="446,409 447,408 448,408 449,409 449,412 448,413 447,413"/><polyline points="448,413 449,414 449,416 448,418 447,418 446,417"/></g><g stroke="#00ff00" fill="none" stroke-width="1" shape-rendering="crispEdges" transform="translate(0.5,0.5)"><polyline points="452,418 452,408 450,415 453,415"/></g><g stroke="#00ff00" fill="none" stroke-width="1" shape-rendering="crispEdges" transform="translate(0.5,0.5)"><polyline points="464,420 465,419 466,419 467,420 467,423 466,424 465,424"/><polyline points="466,424 467,425 467,427 466,428 465,428 464,428"/></g><g stroke="#00ff00" fill="none" stroke-width="1" shape-rendering="crispEdges" transform="translate(0.5,0.5)"><polyline points="472,419 469,419 468,423 471,423 472,424 472,427 471,428 469,428 468,428"/></g><g stroke="#00ff00" fill="none" stroke-width="1" shape-rendering="crispEdges" transform="translate(0.5,0.5)"><polyline points="481,420 482,418 482,426"/></g><g stroke="#00ff00" fill="none" stroke-width="1" shape-rendering="crispEdges" transform="translate(0.5,0.5)"><polyline points="485,418 487,418 486,426"/></g></g>
</svg>
</body></html>
